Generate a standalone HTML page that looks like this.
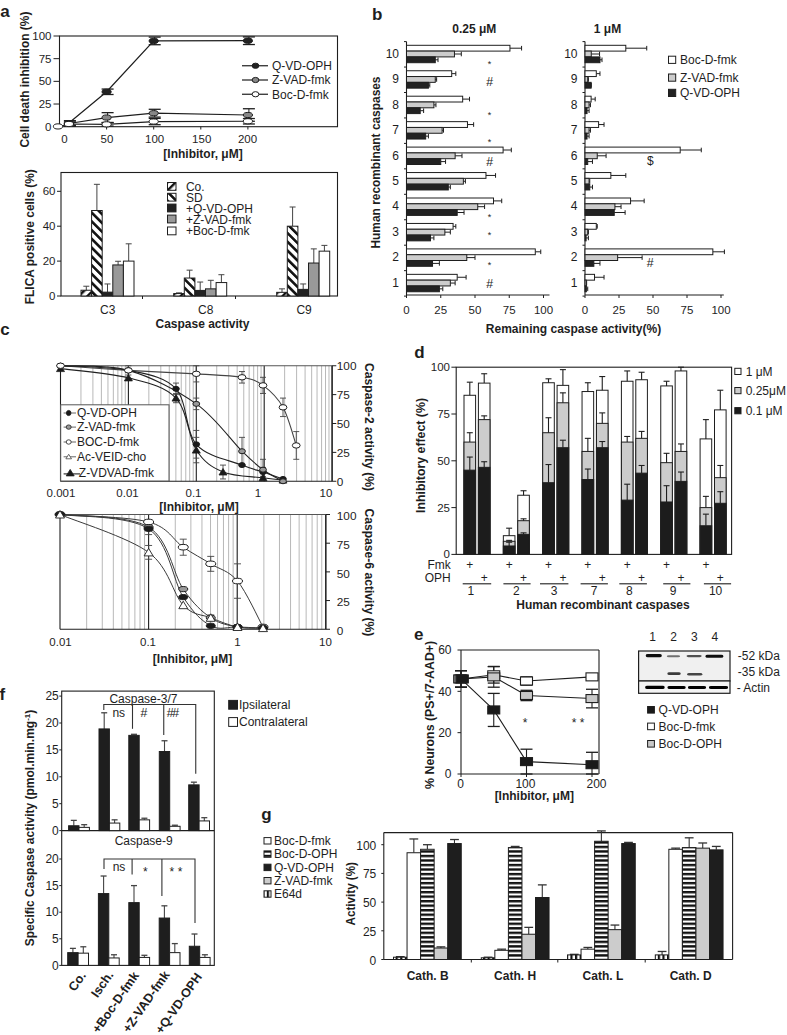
<!DOCTYPE html>
<html><head><meta charset="utf-8"><style>
html,body{margin:0;padding:0;background:#fff;}
svg{display:block;font-family:"Liberation Sans",sans-serif;}
</style></head><body>
<svg width="787" height="1035" viewBox="0 0 787 1035">
<rect width="787" height="1035" fill="#fff"/>
<defs>
<pattern id="hf" patternUnits="userSpaceOnUse" width="6" height="6" patternTransform="rotate(45)"><rect width="6" height="6" fill="#fff"/><rect width="2.4" height="6" fill="#111"/></pattern>
<pattern id="hb" patternUnits="userSpaceOnUse" width="6.2" height="6.2" patternTransform="rotate(-45)"><rect width="6.2" height="6.2" fill="#fff"/><rect width="2.6" height="6.2" fill="#111"/></pattern>
<pattern id="hs" patternUnits="userSpaceOnUse" width="4.5" height="4.52" y="0.5"><rect width="4.5" height="4.52" fill="#fff"/><rect width="4.5" height="2.4" fill="#111"/></pattern>
<pattern id="vs" patternUnits="userSpaceOnUse" width="4.6" height="4" x="0"><rect width="4.6" height="4" fill="#fff"/><rect width="2.2" height="4" fill="#111"/></pattern>
</defs>
<text x="0.3" y="16.6" font-size="17" font-weight="bold" fill="#1e1e1e">a</text>
<text transform="translate(25.00,79.60) rotate(-90)" x="0" y="4.26" font-size="12" text-anchor="middle" font-weight="bold" fill="#1e1e1e" textLength="136" lengthAdjust="spacingAndGlyphs">Cell death inhibition (%)</text>
<rect x="59.50" y="36.00" width="278.00" height="90.70" fill="none" stroke="#1e1e1e" stroke-width="1.1" />
<line x1="53.50" y1="126.70" x2="59.50" y2="126.70" stroke="#1e1e1e" stroke-width="1" />
<text x="51.50" y="130.78" font-size="11.5" text-anchor="end" fill="#1e1e1e" >0</text>
<line x1="53.50" y1="104.03" x2="59.50" y2="104.03" stroke="#1e1e1e" stroke-width="1" />
<text x="51.50" y="108.11" font-size="11.5" text-anchor="end" fill="#1e1e1e" >25</text>
<line x1="53.50" y1="81.35" x2="59.50" y2="81.35" stroke="#1e1e1e" stroke-width="1" />
<text x="51.50" y="85.43" font-size="11.5" text-anchor="end" fill="#1e1e1e" >50</text>
<line x1="53.50" y1="58.67" x2="59.50" y2="58.67" stroke="#1e1e1e" stroke-width="1" />
<text x="51.50" y="62.76" font-size="11.5" text-anchor="end" fill="#1e1e1e" >75</text>
<line x1="53.50" y1="36.00" x2="59.50" y2="36.00" stroke="#1e1e1e" stroke-width="1" />
<text x="51.50" y="40.08" font-size="11.5" text-anchor="end" fill="#1e1e1e" >100</text>
<text x="64.50" y="143.08" font-size="11.5" text-anchor="middle" fill="#1e1e1e" >0</text>
<line x1="106.60" y1="126.70" x2="106.60" y2="129.50" stroke="#1e1e1e" stroke-width="1" />
<text x="107.00" y="143.08" font-size="11.5" text-anchor="middle" fill="#1e1e1e" >50</text>
<line x1="153.70" y1="126.70" x2="153.70" y2="129.50" stroke="#1e1e1e" stroke-width="1" />
<text x="154.60" y="143.08" font-size="11.5" text-anchor="middle" fill="#1e1e1e" >100</text>
<line x1="200.80" y1="126.70" x2="200.80" y2="129.50" stroke="#1e1e1e" stroke-width="1" />
<text x="201.70" y="143.08" font-size="11.5" text-anchor="middle" fill="#1e1e1e" >150</text>
<line x1="247.90" y1="126.70" x2="247.90" y2="129.50" stroke="#1e1e1e" stroke-width="1" />
<text x="247.50" y="143.08" font-size="11.5" text-anchor="middle" fill="#1e1e1e" >200</text>
<text x="203.00" y="158.46" font-size="12" text-anchor="middle" font-weight="bold" fill="#1e1e1e" >[Inhibitor, μM]</text>
<polyline points="59.50,126.43 68.92,123.98 106.60,124.34 153.70,121.53 247.90,121.26" fill="none" stroke="#1e1e1e" stroke-width="1.2"/>
<polyline points="68.92,123.53 106.60,117.54 153.70,113.19 247.90,115.00" fill="none" stroke="#1e1e1e" stroke-width="1.2"/>
<polyline points="68.92,123.07 106.60,91.78 153.70,40.90 247.90,40.72" fill="none" stroke="#1e1e1e" stroke-width="1.2"/>
<line x1="69.92" y1="125.79" x2="69.92" y2="122.17" stroke="#1e1e1e" stroke-width="1" />
<line x1="63.92" y1="122.17" x2="75.92" y2="122.17" stroke="#1e1e1e" stroke-width="1.3" />
<line x1="63.92" y1="125.79" x2="75.92" y2="125.79" stroke="#1e1e1e" stroke-width="1.3" />
<line x1="107.60" y1="126.07" x2="107.60" y2="122.62" stroke="#1e1e1e" stroke-width="1" />
<line x1="101.60" y1="122.62" x2="113.60" y2="122.62" stroke="#1e1e1e" stroke-width="1.3" />
<line x1="101.60" y1="126.07" x2="113.60" y2="126.07" stroke="#1e1e1e" stroke-width="1.3" />
<line x1="154.70" y1="124.70" x2="154.70" y2="118.36" stroke="#1e1e1e" stroke-width="1" />
<line x1="148.70" y1="118.36" x2="160.70" y2="118.36" stroke="#1e1e1e" stroke-width="1.3" />
<line x1="148.70" y1="124.70" x2="160.70" y2="124.70" stroke="#1e1e1e" stroke-width="1.3" />
<line x1="248.90" y1="123.98" x2="248.90" y2="118.54" stroke="#1e1e1e" stroke-width="1" />
<line x1="242.90" y1="118.54" x2="254.90" y2="118.54" stroke="#1e1e1e" stroke-width="1.3" />
<line x1="242.90" y1="123.98" x2="254.90" y2="123.98" stroke="#1e1e1e" stroke-width="1.3" />
<line x1="69.92" y1="126.25" x2="69.92" y2="120.80" stroke="#1e1e1e" stroke-width="1" />
<line x1="63.92" y1="120.80" x2="75.92" y2="120.80" stroke="#1e1e1e" stroke-width="1.3" />
<line x1="63.92" y1="126.25" x2="75.92" y2="126.25" stroke="#1e1e1e" stroke-width="1.3" />
<line x1="107.60" y1="122.44" x2="107.60" y2="112.64" stroke="#1e1e1e" stroke-width="1" />
<line x1="101.60" y1="112.64" x2="113.60" y2="112.64" stroke="#1e1e1e" stroke-width="1.3" />
<line x1="101.60" y1="122.44" x2="113.60" y2="122.44" stroke="#1e1e1e" stroke-width="1.3" />
<line x1="154.70" y1="117.09" x2="154.70" y2="109.29" stroke="#1e1e1e" stroke-width="1" />
<line x1="148.70" y1="109.29" x2="160.70" y2="109.29" stroke="#1e1e1e" stroke-width="1.3" />
<line x1="148.70" y1="117.09" x2="160.70" y2="117.09" stroke="#1e1e1e" stroke-width="1.3" />
<line x1="248.90" y1="121.26" x2="248.90" y2="108.74" stroke="#1e1e1e" stroke-width="1" />
<line x1="242.90" y1="108.74" x2="254.90" y2="108.74" stroke="#1e1e1e" stroke-width="1.3" />
<line x1="242.90" y1="121.26" x2="254.90" y2="121.26" stroke="#1e1e1e" stroke-width="1.3" />
<line x1="69.92" y1="125.34" x2="69.92" y2="120.80" stroke="#1e1e1e" stroke-width="1" />
<line x1="63.92" y1="120.80" x2="75.92" y2="120.80" stroke="#1e1e1e" stroke-width="1.3" />
<line x1="63.92" y1="125.34" x2="75.92" y2="125.34" stroke="#1e1e1e" stroke-width="1.3" />
<line x1="107.60" y1="94.50" x2="107.60" y2="89.06" stroke="#1e1e1e" stroke-width="1" />
<line x1="101.60" y1="89.06" x2="113.60" y2="89.06" stroke="#1e1e1e" stroke-width="1.3" />
<line x1="101.60" y1="94.50" x2="113.60" y2="94.50" stroke="#1e1e1e" stroke-width="1.3" />
<line x1="154.70" y1="44.71" x2="154.70" y2="37.09" stroke="#1e1e1e" stroke-width="1" />
<line x1="148.70" y1="37.09" x2="160.70" y2="37.09" stroke="#1e1e1e" stroke-width="1.3" />
<line x1="148.70" y1="44.71" x2="160.70" y2="44.71" stroke="#1e1e1e" stroke-width="1.3" />
<line x1="248.90" y1="44.53" x2="248.90" y2="36.91" stroke="#1e1e1e" stroke-width="1" />
<line x1="242.90" y1="36.91" x2="254.90" y2="36.91" stroke="#1e1e1e" stroke-width="1.3" />
<line x1="242.90" y1="44.53" x2="254.90" y2="44.53" stroke="#1e1e1e" stroke-width="1.3" />
<ellipse cx="68.92" cy="123.07" rx="4.6" ry="2.6" fill="#222" stroke="#1e1e1e" stroke-width="1"/>
<ellipse cx="106.60" cy="91.78" rx="4.6" ry="2.6" fill="#222" stroke="#1e1e1e" stroke-width="1"/>
<ellipse cx="153.70" cy="40.90" rx="4.6" ry="2.6" fill="#222" stroke="#1e1e1e" stroke-width="1"/>
<ellipse cx="247.90" cy="40.72" rx="4.6" ry="2.6" fill="#222" stroke="#1e1e1e" stroke-width="1"/>
<ellipse cx="68.92" cy="123.53" rx="4.6" ry="2.6" fill="#888" stroke="#1e1e1e" stroke-width="1"/>
<ellipse cx="106.60" cy="117.54" rx="4.6" ry="2.6" fill="#888" stroke="#1e1e1e" stroke-width="1"/>
<ellipse cx="153.70" cy="113.19" rx="4.6" ry="2.6" fill="#888" stroke="#1e1e1e" stroke-width="1"/>
<ellipse cx="247.90" cy="115.00" rx="4.6" ry="2.6" fill="#888" stroke="#1e1e1e" stroke-width="1"/>
<ellipse cx="58.00" cy="126.43" rx="4.6" ry="2.6" fill="#fff" stroke="#1e1e1e" stroke-width="1"/>
<ellipse cx="68.92" cy="123.98" rx="4.6" ry="2.6" fill="#fff" stroke="#1e1e1e" stroke-width="1"/>
<ellipse cx="106.60" cy="124.34" rx="4.6" ry="2.6" fill="#fff" stroke="#1e1e1e" stroke-width="1"/>
<ellipse cx="153.70" cy="121.53" rx="4.6" ry="2.6" fill="#fff" stroke="#1e1e1e" stroke-width="1"/>
<ellipse cx="247.90" cy="121.26" rx="4.6" ry="2.6" fill="#fff" stroke="#1e1e1e" stroke-width="1"/>
<line x1="242.00" y1="65.75" x2="268.00" y2="65.75" stroke="#1e1e1e" stroke-width="1.2" />
<ellipse cx="255.50" cy="65.75" rx="3.4" ry="2.6" fill="#222" stroke="#1e1e1e" stroke-width="1"/>
<text x="272.00" y="70.01" font-size="12" text-anchor="start" fill="#1e1e1e" >Q-VD-OPH</text>
<line x1="242.00" y1="80.00" x2="268.00" y2="80.00" stroke="#1e1e1e" stroke-width="1.2" />
<ellipse cx="255.50" cy="80.00" rx="3.4" ry="2.6" fill="#888" stroke="#1e1e1e" stroke-width="1"/>
<text x="272.00" y="84.26" font-size="12" text-anchor="start" fill="#1e1e1e" >Z-VAD-fmk</text>
<line x1="242.00" y1="94.25" x2="268.00" y2="94.25" stroke="#1e1e1e" stroke-width="1.2" />
<ellipse cx="255.50" cy="94.25" rx="3.4" ry="2.6" fill="#fff" stroke="#1e1e1e" stroke-width="1"/>
<text x="272.00" y="98.51" font-size="12" text-anchor="start" fill="#1e1e1e" >Boc-D-fmk</text>
<rect x="61.00" y="172.50" width="276.50" height="123.50" fill="none" stroke="#1e1e1e" stroke-width="1.1" />
<line x1="57.00" y1="296.00" x2="61.00" y2="296.00" stroke="#1e1e1e" stroke-width="1" />
<text x="55.50" y="300.08" font-size="11.5" text-anchor="end" fill="#1e1e1e" >0</text>
<line x1="57.00" y1="261.10" x2="61.00" y2="261.10" stroke="#1e1e1e" stroke-width="1" />
<text x="55.50" y="265.18" font-size="11.5" text-anchor="end" fill="#1e1e1e" >20</text>
<line x1="57.00" y1="226.20" x2="61.00" y2="226.20" stroke="#1e1e1e" stroke-width="1" />
<text x="55.50" y="230.28" font-size="11.5" text-anchor="end" fill="#1e1e1e" >40</text>
<line x1="57.00" y1="191.30" x2="61.00" y2="191.30" stroke="#1e1e1e" stroke-width="1" />
<text x="55.50" y="195.38" font-size="11.5" text-anchor="end" fill="#1e1e1e" >60</text>
<line x1="142.50" y1="296.00" x2="142.50" y2="299.00" stroke="#1e1e1e" stroke-width="1" />
<line x1="235.50" y1="296.00" x2="235.50" y2="299.00" stroke="#1e1e1e" stroke-width="1" />
<text transform="translate(30.00,236.75) rotate(-90)" x="0" y="4.26" font-size="12" text-anchor="middle" font-weight="bold" fill="#1e1e1e" textLength="135" lengthAdjust="spacingAndGlyphs">FLICA positive cells (%)</text>
<text x="107.75" y="313.76" font-size="12" text-anchor="middle" fill="#1e1e1e" >C3</text>
<text x="205.70" y="314.26" font-size="12" text-anchor="middle" fill="#1e1e1e" >C8</text>
<text x="304.10" y="314.26" font-size="12" text-anchor="middle" fill="#1e1e1e" >C9</text>
<text x="202.50" y="328.06" font-size="12" text-anchor="middle" font-weight="bold" fill="#1e1e1e" >Caspase activity</text>
<line x1="86.30" y1="290.24" x2="86.30" y2="286.23" stroke="#444" stroke-width="1" />
<line x1="83.30" y1="286.23" x2="89.30" y2="286.23" stroke="#444" stroke-width="1" />
<line x1="96.90" y1="210.50" x2="96.90" y2="184.32" stroke="#444" stroke-width="1" />
<line x1="93.90" y1="184.32" x2="99.90" y2="184.32" stroke="#444" stroke-width="1" />
<line x1="107.50" y1="292.16" x2="107.50" y2="283.96" stroke="#444" stroke-width="1" />
<line x1="104.50" y1="283.96" x2="110.50" y2="283.96" stroke="#444" stroke-width="1" />
<line x1="118.10" y1="264.94" x2="118.10" y2="261.27" stroke="#444" stroke-width="1" />
<line x1="115.10" y1="261.27" x2="121.10" y2="261.27" stroke="#444" stroke-width="1" />
<line x1="128.70" y1="261.10" x2="128.70" y2="243.82" stroke="#444" stroke-width="1" />
<line x1="125.70" y1="243.82" x2="131.70" y2="243.82" stroke="#444" stroke-width="1" />
<rect x="81.00" y="290.24" width="10.60" height="5.76" fill="url(#hf)" stroke="#1e1e1e" stroke-width="1" />
<rect x="91.60" y="210.50" width="10.60" height="85.50" fill="url(#hb)" stroke="#1e1e1e" stroke-width="1" />
<rect x="102.20" y="292.16" width="10.60" height="3.84" fill="#222" stroke="#1e1e1e" stroke-width="1" />
<rect x="112.80" y="264.94" width="10.60" height="31.06" fill="#999" stroke="#1e1e1e" stroke-width="1" />
<rect x="123.40" y="261.10" width="10.60" height="34.90" fill="#fff" stroke="#1e1e1e" stroke-width="1" />
<line x1="179.00" y1="293.56" x2="179.00" y2="292.86" stroke="#444" stroke-width="1" />
<line x1="176.00" y1="292.86" x2="182.00" y2="292.86" stroke="#444" stroke-width="1" />
<line x1="189.60" y1="278.03" x2="189.60" y2="270.17" stroke="#444" stroke-width="1" />
<line x1="186.60" y1="270.17" x2="192.60" y2="270.17" stroke="#444" stroke-width="1" />
<line x1="200.20" y1="290.42" x2="200.20" y2="282.04" stroke="#444" stroke-width="1" />
<line x1="197.20" y1="282.04" x2="203.20" y2="282.04" stroke="#444" stroke-width="1" />
<line x1="210.80" y1="288.85" x2="210.80" y2="280.30" stroke="#444" stroke-width="1" />
<line x1="207.80" y1="280.30" x2="213.80" y2="280.30" stroke="#444" stroke-width="1" />
<line x1="221.40" y1="282.56" x2="221.40" y2="274.71" stroke="#444" stroke-width="1" />
<line x1="218.40" y1="274.71" x2="224.40" y2="274.71" stroke="#444" stroke-width="1" />
<rect x="173.70" y="293.56" width="10.60" height="2.44" fill="url(#hf)" stroke="#1e1e1e" stroke-width="1" />
<rect x="184.30" y="278.03" width="10.60" height="17.97" fill="url(#hb)" stroke="#1e1e1e" stroke-width="1" />
<rect x="194.90" y="290.42" width="10.60" height="5.58" fill="#222" stroke="#1e1e1e" stroke-width="1" />
<rect x="205.50" y="288.85" width="10.60" height="7.15" fill="#999" stroke="#1e1e1e" stroke-width="1" />
<rect x="216.10" y="282.56" width="10.60" height="13.44" fill="#fff" stroke="#1e1e1e" stroke-width="1" />
<line x1="282.00" y1="292.34" x2="282.00" y2="288.85" stroke="#444" stroke-width="1" />
<line x1="279.00" y1="288.85" x2="285.00" y2="288.85" stroke="#444" stroke-width="1" />
<line x1="292.60" y1="226.20" x2="292.60" y2="207.00" stroke="#444" stroke-width="1" />
<line x1="289.60" y1="207.00" x2="295.60" y2="207.00" stroke="#444" stroke-width="1" />
<line x1="303.20" y1="289.37" x2="303.20" y2="283.96" stroke="#444" stroke-width="1" />
<line x1="300.20" y1="283.96" x2="306.20" y2="283.96" stroke="#444" stroke-width="1" />
<line x1="313.80" y1="263.02" x2="313.80" y2="248.88" stroke="#444" stroke-width="1" />
<line x1="310.80" y1="248.88" x2="316.80" y2="248.88" stroke="#444" stroke-width="1" />
<line x1="324.40" y1="251.15" x2="324.40" y2="245.39" stroke="#444" stroke-width="1" />
<line x1="321.40" y1="245.39" x2="327.40" y2="245.39" stroke="#444" stroke-width="1" />
<rect x="276.70" y="292.34" width="10.60" height="3.66" fill="url(#hf)" stroke="#1e1e1e" stroke-width="1" />
<rect x="287.30" y="226.20" width="10.60" height="69.80" fill="url(#hb)" stroke="#1e1e1e" stroke-width="1" />
<rect x="297.90" y="289.37" width="10.60" height="6.63" fill="#222" stroke="#1e1e1e" stroke-width="1" />
<rect x="308.50" y="263.02" width="10.60" height="32.98" fill="#999" stroke="#1e1e1e" stroke-width="1" />
<rect x="319.10" y="251.15" width="10.60" height="44.85" fill="#fff" stroke="#1e1e1e" stroke-width="1" />
<rect x="167.50" y="182.50" width="8.50" height="7.80" fill="url(#hf)" stroke="#1e1e1e" stroke-width="1" />
<text x="185.90" y="190.96" font-size="12" text-anchor="start" fill="#1e1e1e" >Co.</text>
<rect x="167.50" y="193.30" width="8.50" height="7.80" fill="url(#hb)" stroke="#1e1e1e" stroke-width="1" />
<text x="185.90" y="201.76" font-size="12" text-anchor="start" fill="#1e1e1e" >SD</text>
<rect x="167.50" y="204.10" width="8.50" height="7.80" fill="#222" stroke="#1e1e1e" stroke-width="1" />
<text x="185.90" y="212.56" font-size="12" text-anchor="start" fill="#1e1e1e" >+Q-VD-OPH</text>
<rect x="167.50" y="215.10" width="8.50" height="7.80" fill="#999" stroke="#1e1e1e" stroke-width="1" />
<text x="185.90" y="223.56" font-size="12" text-anchor="start" fill="#1e1e1e" >+Z-VAD-fmk</text>
<rect x="167.50" y="227.00" width="8.50" height="7.80" fill="#fff" stroke="#1e1e1e" stroke-width="1" />
<text x="185.90" y="235.46" font-size="12" text-anchor="start" fill="#1e1e1e" >+Boc-D-fmk</text>
<text x="372" y="19.8" font-size="17" font-weight="bold" fill="#1e1e1e">b</text>
<text x="474.25" y="33.26" font-size="12" text-anchor="middle" font-weight="bold" fill="#1e1e1e" >0.25 μM</text>
<text x="607.50" y="33.26" font-size="12" text-anchor="middle" font-weight="bold" fill="#1e1e1e" >1 μM</text>
<text transform="translate(375.70,162.50) rotate(-90)" x="0" y="4.26" font-size="12" text-anchor="middle" font-weight="bold" fill="#1e1e1e" textLength="172" lengthAdjust="spacingAndGlyphs">Human recombinant caspases</text>
<text x="573.50" y="333.06" font-size="12" text-anchor="middle" font-weight="bold" fill="#1e1e1e" >Remaining caspase activity(%)</text>
<line x1="406.50" y1="41.60" x2="406.50" y2="295.00" stroke="#1e1e1e" stroke-width="1.1" />
<line x1="406.50" y1="295.00" x2="549.50" y2="295.00" stroke="#1e1e1e" stroke-width="1.1" />
<line x1="404.00" y1="41.60" x2="406.50" y2="41.60" stroke="#1e1e1e" stroke-width="1" />
<line x1="404.00" y1="67.05" x2="406.50" y2="67.05" stroke="#1e1e1e" stroke-width="1" />
<line x1="404.00" y1="92.50" x2="406.50" y2="92.50" stroke="#1e1e1e" stroke-width="1" />
<line x1="404.00" y1="117.95" x2="406.50" y2="117.95" stroke="#1e1e1e" stroke-width="1" />
<line x1="404.00" y1="143.40" x2="406.50" y2="143.40" stroke="#1e1e1e" stroke-width="1" />
<line x1="404.00" y1="168.85" x2="406.50" y2="168.85" stroke="#1e1e1e" stroke-width="1" />
<line x1="404.00" y1="194.30" x2="406.50" y2="194.30" stroke="#1e1e1e" stroke-width="1" />
<line x1="404.00" y1="219.75" x2="406.50" y2="219.75" stroke="#1e1e1e" stroke-width="1" />
<line x1="404.00" y1="245.20" x2="406.50" y2="245.20" stroke="#1e1e1e" stroke-width="1" />
<line x1="404.00" y1="270.65" x2="406.50" y2="270.65" stroke="#1e1e1e" stroke-width="1" />
<line x1="404.00" y1="296.10" x2="406.50" y2="296.10" stroke="#1e1e1e" stroke-width="1" />
<line x1="406.50" y1="295.00" x2="406.50" y2="298.00" stroke="#1e1e1e" stroke-width="1" />
<text x="406.50" y="314.08" font-size="11.5" text-anchor="middle" fill="#1e1e1e" >0</text>
<line x1="440.75" y1="295.00" x2="440.75" y2="298.00" stroke="#1e1e1e" stroke-width="1" />
<text x="440.75" y="314.08" font-size="11.5" text-anchor="middle" fill="#1e1e1e" >25</text>
<line x1="475.00" y1="295.00" x2="475.00" y2="298.00" stroke="#1e1e1e" stroke-width="1" />
<text x="475.00" y="314.08" font-size="11.5" text-anchor="middle" fill="#1e1e1e" >50</text>
<line x1="509.25" y1="295.00" x2="509.25" y2="298.00" stroke="#1e1e1e" stroke-width="1" />
<text x="509.25" y="314.08" font-size="11.5" text-anchor="middle" fill="#1e1e1e" >75</text>
<line x1="543.50" y1="295.00" x2="543.50" y2="298.00" stroke="#1e1e1e" stroke-width="1" />
<text x="543.50" y="314.08" font-size="11.5" text-anchor="middle" fill="#1e1e1e" >100</text>
<text x="399.00" y="57.79" font-size="12" text-anchor="end" fill="#1e1e1e" >10</text>
<line x1="509.94" y1="48.20" x2="521.58" y2="48.20" stroke="#1e1e1e" stroke-width="1" />
<line x1="521.58" y1="45.90" x2="521.58" y2="50.50" stroke="#1e1e1e" stroke-width="1" />
<rect x="406.50" y="45.30" width="103.44" height="5.80" fill="#fff" stroke="#1e1e1e" stroke-width="1" />
<line x1="454.45" y1="54.00" x2="461.30" y2="54.00" stroke="#1e1e1e" stroke-width="1" />
<line x1="461.30" y1="51.70" x2="461.30" y2="56.30" stroke="#1e1e1e" stroke-width="1" />
<rect x="406.50" y="51.10" width="47.95" height="5.80" fill="#ccc" stroke="#1e1e1e" stroke-width="1" />
<line x1="435.27" y1="59.80" x2="438.01" y2="59.80" stroke="#1e1e1e" stroke-width="1" />
<line x1="438.01" y1="57.50" x2="438.01" y2="62.10" stroke="#1e1e1e" stroke-width="1" />
<rect x="406.50" y="56.90" width="28.77" height="5.80" fill="#222" stroke="#1e1e1e" stroke-width="1" />
<text x="399.00" y="83.23" font-size="12" text-anchor="end" fill="#1e1e1e" >9</text>
<line x1="451.71" y1="73.65" x2="455.82" y2="73.65" stroke="#1e1e1e" stroke-width="1" />
<line x1="455.82" y1="71.35" x2="455.82" y2="75.95" stroke="#1e1e1e" stroke-width="1" />
<rect x="406.50" y="70.75" width="45.21" height="5.80" fill="#fff" stroke="#1e1e1e" stroke-width="1" />
<line x1="435.27" y1="79.45" x2="436.64" y2="79.45" stroke="#1e1e1e" stroke-width="1" />
<line x1="436.64" y1="77.15" x2="436.64" y2="81.75" stroke="#1e1e1e" stroke-width="1" />
<rect x="406.50" y="76.55" width="28.77" height="5.80" fill="#ccc" stroke="#1e1e1e" stroke-width="1" />
<line x1="428.42" y1="85.25" x2="429.79" y2="85.25" stroke="#1e1e1e" stroke-width="1" />
<line x1="429.79" y1="82.95" x2="429.79" y2="87.55" stroke="#1e1e1e" stroke-width="1" />
<rect x="406.50" y="82.35" width="21.92" height="5.80" fill="#222" stroke="#1e1e1e" stroke-width="1" />
<text x="399.00" y="108.69" font-size="12" text-anchor="end" fill="#1e1e1e" >8</text>
<line x1="462.67" y1="99.10" x2="469.52" y2="99.10" stroke="#1e1e1e" stroke-width="1" />
<line x1="469.52" y1="96.80" x2="469.52" y2="101.40" stroke="#1e1e1e" stroke-width="1" />
<rect x="406.50" y="96.20" width="56.17" height="5.80" fill="#fff" stroke="#1e1e1e" stroke-width="1" />
<line x1="433.90" y1="104.90" x2="435.95" y2="104.90" stroke="#1e1e1e" stroke-width="1" />
<line x1="435.95" y1="102.60" x2="435.95" y2="107.20" stroke="#1e1e1e" stroke-width="1" />
<rect x="406.50" y="102.00" width="27.40" height="5.80" fill="#ccc" stroke="#1e1e1e" stroke-width="1" />
<line x1="420.20" y1="110.70" x2="423.62" y2="110.70" stroke="#1e1e1e" stroke-width="1" />
<line x1="423.62" y1="108.40" x2="423.62" y2="113.00" stroke="#1e1e1e" stroke-width="1" />
<rect x="406.50" y="107.80" width="13.70" height="5.80" fill="#222" stroke="#1e1e1e" stroke-width="1" />
<text x="399.00" y="134.13" font-size="12" text-anchor="end" fill="#1e1e1e" >7</text>
<line x1="467.47" y1="124.55" x2="473.63" y2="124.55" stroke="#1e1e1e" stroke-width="1" />
<line x1="473.63" y1="122.25" x2="473.63" y2="126.85" stroke="#1e1e1e" stroke-width="1" />
<rect x="406.50" y="121.65" width="60.97" height="5.80" fill="#fff" stroke="#1e1e1e" stroke-width="1" />
<line x1="442.12" y1="130.35" x2="443.49" y2="130.35" stroke="#1e1e1e" stroke-width="1" />
<line x1="443.49" y1="128.05" x2="443.49" y2="132.65" stroke="#1e1e1e" stroke-width="1" />
<rect x="406.50" y="127.45" width="35.62" height="5.80" fill="#ccc" stroke="#1e1e1e" stroke-width="1" />
<line x1="425.68" y1="136.15" x2="428.42" y2="136.15" stroke="#1e1e1e" stroke-width="1" />
<line x1="428.42" y1="133.85" x2="428.42" y2="138.45" stroke="#1e1e1e" stroke-width="1" />
<rect x="406.50" y="133.25" width="19.18" height="5.80" fill="#222" stroke="#1e1e1e" stroke-width="1" />
<text x="399.00" y="159.58" font-size="12" text-anchor="end" fill="#1e1e1e" >6</text>
<line x1="503.09" y1="150.00" x2="511.31" y2="150.00" stroke="#1e1e1e" stroke-width="1" />
<line x1="511.31" y1="147.70" x2="511.31" y2="152.30" stroke="#1e1e1e" stroke-width="1" />
<rect x="406.50" y="147.10" width="96.59" height="5.80" fill="#fff" stroke="#1e1e1e" stroke-width="1" />
<line x1="455.13" y1="155.80" x2="461.99" y2="155.80" stroke="#1e1e1e" stroke-width="1" />
<line x1="461.99" y1="153.50" x2="461.99" y2="158.10" stroke="#1e1e1e" stroke-width="1" />
<rect x="406.50" y="152.90" width="48.64" height="5.80" fill="#ccc" stroke="#1e1e1e" stroke-width="1" />
<line x1="440.75" y1="161.60" x2="445.55" y2="161.60" stroke="#1e1e1e" stroke-width="1" />
<line x1="445.55" y1="159.30" x2="445.55" y2="163.90" stroke="#1e1e1e" stroke-width="1" />
<rect x="406.50" y="158.70" width="34.25" height="5.80" fill="#222" stroke="#1e1e1e" stroke-width="1" />
<text x="399.00" y="185.03" font-size="12" text-anchor="end" fill="#1e1e1e" >5</text>
<line x1="485.96" y1="175.45" x2="495.55" y2="175.45" stroke="#1e1e1e" stroke-width="1" />
<line x1="495.55" y1="173.15" x2="495.55" y2="177.75" stroke="#1e1e1e" stroke-width="1" />
<rect x="406.50" y="172.55" width="79.46" height="5.80" fill="#fff" stroke="#1e1e1e" stroke-width="1" />
<line x1="463.36" y1="181.25" x2="465.41" y2="181.25" stroke="#1e1e1e" stroke-width="1" />
<line x1="465.41" y1="178.95" x2="465.41" y2="183.55" stroke="#1e1e1e" stroke-width="1" />
<rect x="406.50" y="178.35" width="56.86" height="5.80" fill="#ccc" stroke="#1e1e1e" stroke-width="1" />
<line x1="448.29" y1="187.05" x2="450.34" y2="187.05" stroke="#1e1e1e" stroke-width="1" />
<line x1="450.34" y1="184.75" x2="450.34" y2="189.35" stroke="#1e1e1e" stroke-width="1" />
<rect x="406.50" y="184.15" width="41.79" height="5.80" fill="#222" stroke="#1e1e1e" stroke-width="1" />
<text x="399.00" y="210.48" font-size="12" text-anchor="end" fill="#1e1e1e" >4</text>
<line x1="493.50" y1="200.90" x2="501.72" y2="200.90" stroke="#1e1e1e" stroke-width="1" />
<line x1="501.72" y1="198.60" x2="501.72" y2="203.20" stroke="#1e1e1e" stroke-width="1" />
<rect x="406.50" y="198.00" width="87.00" height="5.80" fill="#fff" stroke="#1e1e1e" stroke-width="1" />
<line x1="477.74" y1="206.70" x2="484.59" y2="206.70" stroke="#1e1e1e" stroke-width="1" />
<line x1="484.59" y1="204.40" x2="484.59" y2="209.00" stroke="#1e1e1e" stroke-width="1" />
<rect x="406.50" y="203.80" width="71.24" height="5.80" fill="#ccc" stroke="#1e1e1e" stroke-width="1" />
<line x1="457.19" y1="212.50" x2="464.04" y2="212.50" stroke="#1e1e1e" stroke-width="1" />
<line x1="464.04" y1="210.20" x2="464.04" y2="214.80" stroke="#1e1e1e" stroke-width="1" />
<rect x="406.50" y="209.60" width="50.69" height="5.80" fill="#222" stroke="#1e1e1e" stroke-width="1" />
<text x="399.00" y="235.93" font-size="12" text-anchor="end" fill="#1e1e1e" >3</text>
<line x1="453.08" y1="226.35" x2="455.82" y2="226.35" stroke="#1e1e1e" stroke-width="1" />
<line x1="455.82" y1="224.05" x2="455.82" y2="228.65" stroke="#1e1e1e" stroke-width="1" />
<rect x="406.50" y="223.45" width="46.58" height="5.80" fill="#fff" stroke="#1e1e1e" stroke-width="1" />
<line x1="444.86" y1="232.15" x2="450.34" y2="232.15" stroke="#1e1e1e" stroke-width="1" />
<line x1="450.34" y1="229.85" x2="450.34" y2="234.45" stroke="#1e1e1e" stroke-width="1" />
<rect x="406.50" y="229.25" width="38.36" height="5.80" fill="#ccc" stroke="#1e1e1e" stroke-width="1" />
<line x1="430.48" y1="237.95" x2="433.90" y2="237.95" stroke="#1e1e1e" stroke-width="1" />
<line x1="433.90" y1="235.65" x2="433.90" y2="240.25" stroke="#1e1e1e" stroke-width="1" />
<rect x="406.50" y="235.05" width="23.98" height="5.80" fill="#222" stroke="#1e1e1e" stroke-width="1" />
<text x="399.00" y="261.38" font-size="12" text-anchor="end" fill="#1e1e1e" >2</text>
<line x1="535.28" y1="251.80" x2="540.76" y2="251.80" stroke="#1e1e1e" stroke-width="1" />
<line x1="540.76" y1="249.50" x2="540.76" y2="254.10" stroke="#1e1e1e" stroke-width="1" />
<rect x="406.50" y="248.90" width="128.78" height="5.80" fill="#fff" stroke="#1e1e1e" stroke-width="1" />
<line x1="466.78" y1="257.60" x2="475.00" y2="257.60" stroke="#1e1e1e" stroke-width="1" />
<line x1="475.00" y1="255.30" x2="475.00" y2="259.90" stroke="#1e1e1e" stroke-width="1" />
<rect x="406.50" y="254.70" width="60.28" height="5.80" fill="#ccc" stroke="#1e1e1e" stroke-width="1" />
<line x1="432.53" y1="263.40" x2="439.38" y2="263.40" stroke="#1e1e1e" stroke-width="1" />
<line x1="439.38" y1="261.10" x2="439.38" y2="265.70" stroke="#1e1e1e" stroke-width="1" />
<rect x="406.50" y="260.50" width="26.03" height="5.80" fill="#222" stroke="#1e1e1e" stroke-width="1" />
<text x="399.00" y="286.83" font-size="12" text-anchor="end" fill="#1e1e1e" >1</text>
<line x1="457.19" y1="277.25" x2="466.10" y2="277.25" stroke="#1e1e1e" stroke-width="1" />
<line x1="466.10" y1="274.95" x2="466.10" y2="279.55" stroke="#1e1e1e" stroke-width="1" />
<rect x="406.50" y="274.35" width="50.69" height="5.80" fill="#fff" stroke="#1e1e1e" stroke-width="1" />
<line x1="450.34" y1="283.05" x2="455.13" y2="283.05" stroke="#1e1e1e" stroke-width="1" />
<line x1="455.13" y1="280.75" x2="455.13" y2="285.35" stroke="#1e1e1e" stroke-width="1" />
<rect x="406.50" y="280.15" width="43.84" height="5.80" fill="#ccc" stroke="#1e1e1e" stroke-width="1" />
<line x1="439.38" y1="288.85" x2="442.81" y2="288.85" stroke="#1e1e1e" stroke-width="1" />
<line x1="442.81" y1="286.55" x2="442.81" y2="291.15" stroke="#1e1e1e" stroke-width="1" />
<rect x="406.50" y="285.95" width="32.88" height="5.80" fill="#222" stroke="#1e1e1e" stroke-width="1" />
<text x="489.5" y="66.5" font-size="9" text-anchor="middle" fill="#1e1e1e">*</text>
<text x="489.5" y="86.4" font-size="12.5" font-style="italic" text-anchor="middle" fill="#1e1e1e">#</text>
<text x="489.5" y="117.5" font-size="9" text-anchor="middle" fill="#1e1e1e">*</text>
<text x="489.5" y="145.0" font-size="9" text-anchor="middle" fill="#1e1e1e">*</text>
<text x="489.5" y="165.7" font-size="12.5" font-style="italic" text-anchor="middle" fill="#1e1e1e">#</text>
<text x="489.5" y="219.5" font-size="9" text-anchor="middle" fill="#1e1e1e">*</text>
<text x="489.5" y="238.3" font-size="9" text-anchor="middle" fill="#1e1e1e">*</text>
<text x="489.5" y="267.8" font-size="9" text-anchor="middle" fill="#1e1e1e">*</text>
<text x="489.5" y="288.2" font-size="12.5" font-style="italic" text-anchor="middle" fill="#1e1e1e">#</text>
<line x1="585.00" y1="41.60" x2="585.00" y2="295.00" stroke="#1e1e1e" stroke-width="1.1" />
<line x1="585.00" y1="295.00" x2="723.80" y2="295.00" stroke="#1e1e1e" stroke-width="1.1" />
<line x1="582.50" y1="41.60" x2="585.00" y2="41.60" stroke="#1e1e1e" stroke-width="1" />
<line x1="582.50" y1="67.05" x2="585.00" y2="67.05" stroke="#1e1e1e" stroke-width="1" />
<line x1="582.50" y1="92.50" x2="585.00" y2="92.50" stroke="#1e1e1e" stroke-width="1" />
<line x1="582.50" y1="117.95" x2="585.00" y2="117.95" stroke="#1e1e1e" stroke-width="1" />
<line x1="582.50" y1="143.40" x2="585.00" y2="143.40" stroke="#1e1e1e" stroke-width="1" />
<line x1="582.50" y1="168.85" x2="585.00" y2="168.85" stroke="#1e1e1e" stroke-width="1" />
<line x1="582.50" y1="194.30" x2="585.00" y2="194.30" stroke="#1e1e1e" stroke-width="1" />
<line x1="582.50" y1="219.75" x2="585.00" y2="219.75" stroke="#1e1e1e" stroke-width="1" />
<line x1="582.50" y1="245.20" x2="585.00" y2="245.20" stroke="#1e1e1e" stroke-width="1" />
<line x1="582.50" y1="270.65" x2="585.00" y2="270.65" stroke="#1e1e1e" stroke-width="1" />
<line x1="582.50" y1="296.10" x2="585.00" y2="296.10" stroke="#1e1e1e" stroke-width="1" />
<line x1="585.00" y1="295.00" x2="585.00" y2="298.00" stroke="#1e1e1e" stroke-width="1" />
<text x="585.00" y="314.08" font-size="11.5" text-anchor="middle" fill="#1e1e1e" >0</text>
<line x1="619.00" y1="295.00" x2="619.00" y2="298.00" stroke="#1e1e1e" stroke-width="1" />
<text x="619.00" y="314.08" font-size="11.5" text-anchor="middle" fill="#1e1e1e" >25</text>
<line x1="653.00" y1="295.00" x2="653.00" y2="298.00" stroke="#1e1e1e" stroke-width="1" />
<text x="653.00" y="314.08" font-size="11.5" text-anchor="middle" fill="#1e1e1e" >50</text>
<line x1="687.00" y1="295.00" x2="687.00" y2="298.00" stroke="#1e1e1e" stroke-width="1" />
<text x="687.00" y="314.08" font-size="11.5" text-anchor="middle" fill="#1e1e1e" >75</text>
<line x1="721.00" y1="295.00" x2="721.00" y2="298.00" stroke="#1e1e1e" stroke-width="1" />
<text x="721.00" y="314.08" font-size="11.5" text-anchor="middle" fill="#1e1e1e" >100</text>
<text x="577.50" y="57.79" font-size="12" text-anchor="end" fill="#1e1e1e" >10</text>
<line x1="625.80" y1="48.20" x2="646.74" y2="48.20" stroke="#1e1e1e" stroke-width="1" />
<line x1="646.74" y1="45.90" x2="646.74" y2="50.50" stroke="#1e1e1e" stroke-width="1" />
<rect x="585.00" y="45.30" width="40.80" height="5.80" fill="#fff" stroke="#1e1e1e" stroke-width="1" />
<line x1="591.26" y1="54.00" x2="599.55" y2="54.00" stroke="#1e1e1e" stroke-width="1" />
<line x1="599.55" y1="51.70" x2="599.55" y2="56.30" stroke="#1e1e1e" stroke-width="1" />
<rect x="585.00" y="51.10" width="6.26" height="5.80" fill="#ccc" stroke="#1e1e1e" stroke-width="1" />
<line x1="599.96" y1="59.80" x2="602.00" y2="59.80" stroke="#1e1e1e" stroke-width="1" />
<line x1="602.00" y1="57.50" x2="602.00" y2="62.10" stroke="#1e1e1e" stroke-width="1" />
<rect x="585.00" y="56.90" width="14.96" height="5.80" fill="#222" stroke="#1e1e1e" stroke-width="1" />
<text x="577.50" y="83.23" font-size="12" text-anchor="end" fill="#1e1e1e" >9</text>
<line x1="596.29" y1="73.65" x2="599.96" y2="73.65" stroke="#1e1e1e" stroke-width="1" />
<line x1="599.96" y1="71.35" x2="599.96" y2="75.95" stroke="#1e1e1e" stroke-width="1" />
<rect x="585.00" y="70.75" width="11.29" height="5.80" fill="#fff" stroke="#1e1e1e" stroke-width="1" />
<line x1="587.72" y1="79.45" x2="588.40" y2="79.45" stroke="#1e1e1e" stroke-width="1" />
<line x1="588.40" y1="77.15" x2="588.40" y2="81.75" stroke="#1e1e1e" stroke-width="1" />
<rect x="585.00" y="76.55" width="2.72" height="5.80" fill="#ccc" stroke="#1e1e1e" stroke-width="1" />
<line x1="591.12" y1="85.25" x2="591.26" y2="85.25" stroke="#1e1e1e" stroke-width="1" />
<line x1="591.26" y1="82.95" x2="591.26" y2="87.55" stroke="#1e1e1e" stroke-width="1" />
<rect x="585.00" y="82.35" width="6.12" height="5.80" fill="#222" stroke="#1e1e1e" stroke-width="1" />
<text x="577.50" y="108.69" font-size="12" text-anchor="end" fill="#1e1e1e" >8</text>
<line x1="591.12" y1="99.10" x2="595.20" y2="99.10" stroke="#1e1e1e" stroke-width="1" />
<line x1="595.20" y1="96.80" x2="595.20" y2="101.40" stroke="#1e1e1e" stroke-width="1" />
<rect x="585.00" y="96.20" width="6.12" height="5.80" fill="#fff" stroke="#1e1e1e" stroke-width="1" />
<line x1="589.08" y1="104.90" x2="590.44" y2="104.90" stroke="#1e1e1e" stroke-width="1" />
<line x1="590.44" y1="102.60" x2="590.44" y2="107.20" stroke="#1e1e1e" stroke-width="1" />
<rect x="585.00" y="102.00" width="4.08" height="5.80" fill="#ccc" stroke="#1e1e1e" stroke-width="1" />
<line x1="587.04" y1="110.70" x2="589.08" y2="110.70" stroke="#1e1e1e" stroke-width="1" />
<line x1="589.08" y1="108.40" x2="589.08" y2="113.00" stroke="#1e1e1e" stroke-width="1" />
<rect x="585.00" y="107.80" width="2.04" height="5.80" fill="#222" stroke="#1e1e1e" stroke-width="1" />
<text x="577.50" y="134.13" font-size="12" text-anchor="end" fill="#1e1e1e" >7</text>
<line x1="598.60" y1="124.55" x2="604.04" y2="124.55" stroke="#1e1e1e" stroke-width="1" />
<line x1="604.04" y1="122.25" x2="604.04" y2="126.85" stroke="#1e1e1e" stroke-width="1" />
<rect x="585.00" y="121.65" width="13.60" height="5.80" fill="#fff" stroke="#1e1e1e" stroke-width="1" />
<line x1="589.08" y1="130.35" x2="590.44" y2="130.35" stroke="#1e1e1e" stroke-width="1" />
<line x1="590.44" y1="128.05" x2="590.44" y2="132.65" stroke="#1e1e1e" stroke-width="1" />
<rect x="585.00" y="127.45" width="4.08" height="5.80" fill="#ccc" stroke="#1e1e1e" stroke-width="1" />
<line x1="587.04" y1="136.15" x2="589.08" y2="136.15" stroke="#1e1e1e" stroke-width="1" />
<line x1="589.08" y1="133.85" x2="589.08" y2="138.45" stroke="#1e1e1e" stroke-width="1" />
<rect x="585.00" y="133.25" width="2.04" height="5.80" fill="#222" stroke="#1e1e1e" stroke-width="1" />
<text x="577.50" y="159.58" font-size="12" text-anchor="end" fill="#1e1e1e" >6</text>
<line x1="680.20" y1="150.00" x2="701.28" y2="150.00" stroke="#1e1e1e" stroke-width="1" />
<line x1="701.28" y1="147.70" x2="701.28" y2="152.30" stroke="#1e1e1e" stroke-width="1" />
<rect x="585.00" y="147.10" width="95.20" height="5.80" fill="#fff" stroke="#1e1e1e" stroke-width="1" />
<line x1="597.24" y1="155.80" x2="606.08" y2="155.80" stroke="#1e1e1e" stroke-width="1" />
<line x1="606.08" y1="153.50" x2="606.08" y2="158.10" stroke="#1e1e1e" stroke-width="1" />
<rect x="585.00" y="152.90" width="12.24" height="5.80" fill="#ccc" stroke="#1e1e1e" stroke-width="1" />
<line x1="587.72" y1="161.60" x2="592.48" y2="161.60" stroke="#1e1e1e" stroke-width="1" />
<line x1="592.48" y1="159.30" x2="592.48" y2="163.90" stroke="#1e1e1e" stroke-width="1" />
<rect x="585.00" y="158.70" width="2.72" height="5.80" fill="#222" stroke="#1e1e1e" stroke-width="1" />
<text x="577.50" y="185.03" font-size="12" text-anchor="end" fill="#1e1e1e" >5</text>
<line x1="610.84" y1="175.45" x2="625.80" y2="175.45" stroke="#1e1e1e" stroke-width="1" />
<line x1="625.80" y1="173.15" x2="625.80" y2="177.75" stroke="#1e1e1e" stroke-width="1" />
<rect x="585.00" y="172.55" width="25.84" height="5.80" fill="#fff" stroke="#1e1e1e" stroke-width="1" />
<line x1="589.08" y1="181.25" x2="589.76" y2="181.25" stroke="#1e1e1e" stroke-width="1" />
<line x1="589.76" y1="178.95" x2="589.76" y2="183.55" stroke="#1e1e1e" stroke-width="1" />
<rect x="585.00" y="178.35" width="4.08" height="5.80" fill="#ccc" stroke="#1e1e1e" stroke-width="1" />
<line x1="589.76" y1="187.05" x2="592.48" y2="187.05" stroke="#1e1e1e" stroke-width="1" />
<line x1="592.48" y1="184.75" x2="592.48" y2="189.35" stroke="#1e1e1e" stroke-width="1" />
<rect x="585.00" y="184.15" width="4.76" height="5.80" fill="#222" stroke="#1e1e1e" stroke-width="1" />
<text x="577.50" y="210.48" font-size="12" text-anchor="end" fill="#1e1e1e" >4</text>
<line x1="630.56" y1="200.90" x2="644.16" y2="200.90" stroke="#1e1e1e" stroke-width="1" />
<line x1="644.16" y1="198.60" x2="644.16" y2="203.20" stroke="#1e1e1e" stroke-width="1" />
<rect x="585.00" y="198.00" width="45.56" height="5.80" fill="#fff" stroke="#1e1e1e" stroke-width="1" />
<line x1="614.92" y1="206.70" x2="621.04" y2="206.70" stroke="#1e1e1e" stroke-width="1" />
<line x1="621.04" y1="204.40" x2="621.04" y2="209.00" stroke="#1e1e1e" stroke-width="1" />
<rect x="585.00" y="203.80" width="29.92" height="5.80" fill="#ccc" stroke="#1e1e1e" stroke-width="1" />
<line x1="614.24" y1="212.50" x2="625.12" y2="212.50" stroke="#1e1e1e" stroke-width="1" />
<line x1="625.12" y1="210.20" x2="625.12" y2="214.80" stroke="#1e1e1e" stroke-width="1" />
<rect x="585.00" y="209.60" width="29.24" height="5.80" fill="#222" stroke="#1e1e1e" stroke-width="1" />
<text x="577.50" y="235.93" font-size="12" text-anchor="end" fill="#1e1e1e" >3</text>
<line x1="596.29" y1="226.35" x2="597.24" y2="226.35" stroke="#1e1e1e" stroke-width="1" />
<line x1="597.24" y1="224.05" x2="597.24" y2="228.65" stroke="#1e1e1e" stroke-width="1" />
<rect x="585.00" y="223.45" width="11.29" height="5.80" fill="#fff" stroke="#1e1e1e" stroke-width="1" />
<line x1="587.72" y1="232.15" x2="588.40" y2="232.15" stroke="#1e1e1e" stroke-width="1" />
<line x1="588.40" y1="229.85" x2="588.40" y2="234.45" stroke="#1e1e1e" stroke-width="1" />
<rect x="585.00" y="229.25" width="2.72" height="5.80" fill="#ccc" stroke="#1e1e1e" stroke-width="1" />
<line x1="586.09" y1="237.95" x2="588.40" y2="237.95" stroke="#1e1e1e" stroke-width="1" />
<line x1="588.40" y1="235.65" x2="588.40" y2="240.25" stroke="#1e1e1e" stroke-width="1" />
<rect x="585.00" y="235.05" width="1.09" height="5.80" fill="#222" stroke="#1e1e1e" stroke-width="1" />
<text x="577.50" y="261.38" font-size="12" text-anchor="end" fill="#1e1e1e" >2</text>
<line x1="712.84" y1="251.80" x2="724.40" y2="251.80" stroke="#1e1e1e" stroke-width="1" />
<line x1="724.40" y1="249.50" x2="724.40" y2="254.10" stroke="#1e1e1e" stroke-width="1" />
<rect x="585.00" y="248.90" width="127.84" height="5.80" fill="#fff" stroke="#1e1e1e" stroke-width="1" />
<line x1="617.64" y1="257.60" x2="642.12" y2="257.60" stroke="#1e1e1e" stroke-width="1" />
<line x1="642.12" y1="255.30" x2="642.12" y2="259.90" stroke="#1e1e1e" stroke-width="1" />
<rect x="585.00" y="254.70" width="32.64" height="5.80" fill="#ccc" stroke="#1e1e1e" stroke-width="1" />
<line x1="593.84" y1="263.40" x2="599.96" y2="263.40" stroke="#1e1e1e" stroke-width="1" />
<line x1="599.96" y1="261.10" x2="599.96" y2="265.70" stroke="#1e1e1e" stroke-width="1" />
<rect x="585.00" y="260.50" width="8.84" height="5.80" fill="#222" stroke="#1e1e1e" stroke-width="1" />
<text x="577.50" y="286.83" font-size="12" text-anchor="end" fill="#1e1e1e" >1</text>
<line x1="594.52" y1="277.25" x2="604.04" y2="277.25" stroke="#1e1e1e" stroke-width="1" />
<line x1="604.04" y1="274.95" x2="604.04" y2="279.55" stroke="#1e1e1e" stroke-width="1" />
<rect x="585.00" y="274.35" width="9.52" height="5.80" fill="#fff" stroke="#1e1e1e" stroke-width="1" />
<line x1="586.36" y1="283.05" x2="586.63" y2="283.05" stroke="#1e1e1e" stroke-width="1" />
<line x1="586.63" y1="280.75" x2="586.63" y2="285.35" stroke="#1e1e1e" stroke-width="1" />
<rect x="585.00" y="280.15" width="1.36" height="5.80" fill="#ccc" stroke="#1e1e1e" stroke-width="1" />
<line x1="586.36" y1="288.85" x2="587.72" y2="288.85" stroke="#1e1e1e" stroke-width="1" />
<line x1="587.72" y1="286.55" x2="587.72" y2="291.15" stroke="#1e1e1e" stroke-width="1" />
<rect x="585.00" y="285.95" width="1.36" height="5.80" fill="#222" stroke="#1e1e1e" stroke-width="1" />
<text x="650.3" y="164.8" font-size="12" text-anchor="middle" fill="#1e1e1e">$</text>
<text x="650.0" y="267.4" font-size="12.5" font-style="italic" text-anchor="middle" fill="#1e1e1e">#</text>
<rect x="668.50" y="56.20" width="7.20" height="7.20" fill="#fff" stroke="#1e1e1e" stroke-width="1" />
<text x="680.00" y="64.06" font-size="12" text-anchor="start" fill="#1e1e1e" >Boc-D-fmk</text>
<rect x="668.50" y="74.00" width="7.20" height="7.20" fill="#ccc" stroke="#1e1e1e" stroke-width="1" />
<text x="680.00" y="81.86" font-size="12" text-anchor="start" fill="#1e1e1e" >Z-VAD-fmk</text>
<rect x="668.50" y="89.30" width="7.20" height="7.20" fill="#222" stroke="#1e1e1e" stroke-width="1" />
<text x="680.00" y="97.16" font-size="12" text-anchor="start" fill="#1e1e1e" >Q-VD-OPH</text>
<text x="0.2" y="335" font-size="17" font-weight="bold" fill="#1e1e1e">c</text>
<line x1="80.94" y1="365.75" x2="80.94" y2="481.25" stroke="#b0b0b0" stroke-width="0.9" />
<line x1="92.90" y1="365.75" x2="92.90" y2="481.25" stroke="#b0b0b0" stroke-width="0.9" />
<line x1="101.38" y1="365.75" x2="101.38" y2="481.25" stroke="#b0b0b0" stroke-width="0.9" />
<line x1="107.96" y1="365.75" x2="107.96" y2="481.25" stroke="#b0b0b0" stroke-width="0.9" />
<line x1="113.34" y1="365.75" x2="113.34" y2="481.25" stroke="#b0b0b0" stroke-width="0.9" />
<line x1="117.88" y1="365.75" x2="117.88" y2="481.25" stroke="#b0b0b0" stroke-width="0.9" />
<line x1="121.82" y1="365.75" x2="121.82" y2="481.25" stroke="#b0b0b0" stroke-width="0.9" />
<line x1="125.29" y1="365.75" x2="125.29" y2="481.25" stroke="#b0b0b0" stroke-width="0.9" />
<line x1="148.84" y1="365.75" x2="148.84" y2="481.25" stroke="#b0b0b0" stroke-width="0.9" />
<line x1="160.80" y1="365.75" x2="160.80" y2="481.25" stroke="#b0b0b0" stroke-width="0.9" />
<line x1="169.28" y1="365.75" x2="169.28" y2="481.25" stroke="#b0b0b0" stroke-width="0.9" />
<line x1="175.86" y1="365.75" x2="175.86" y2="481.25" stroke="#b0b0b0" stroke-width="0.9" />
<line x1="181.24" y1="365.75" x2="181.24" y2="481.25" stroke="#b0b0b0" stroke-width="0.9" />
<line x1="185.78" y1="365.75" x2="185.78" y2="481.25" stroke="#b0b0b0" stroke-width="0.9" />
<line x1="189.72" y1="365.75" x2="189.72" y2="481.25" stroke="#b0b0b0" stroke-width="0.9" />
<line x1="193.19" y1="365.75" x2="193.19" y2="481.25" stroke="#b0b0b0" stroke-width="0.9" />
<line x1="216.74" y1="365.75" x2="216.74" y2="481.25" stroke="#b0b0b0" stroke-width="0.9" />
<line x1="228.70" y1="365.75" x2="228.70" y2="481.25" stroke="#b0b0b0" stroke-width="0.9" />
<line x1="237.18" y1="365.75" x2="237.18" y2="481.25" stroke="#b0b0b0" stroke-width="0.9" />
<line x1="243.76" y1="365.75" x2="243.76" y2="481.25" stroke="#b0b0b0" stroke-width="0.9" />
<line x1="249.14" y1="365.75" x2="249.14" y2="481.25" stroke="#b0b0b0" stroke-width="0.9" />
<line x1="253.68" y1="365.75" x2="253.68" y2="481.25" stroke="#b0b0b0" stroke-width="0.9" />
<line x1="257.62" y1="365.75" x2="257.62" y2="481.25" stroke="#b0b0b0" stroke-width="0.9" />
<line x1="261.09" y1="365.75" x2="261.09" y2="481.25" stroke="#b0b0b0" stroke-width="0.9" />
<line x1="284.64" y1="365.75" x2="284.64" y2="481.25" stroke="#b0b0b0" stroke-width="0.9" />
<line x1="296.60" y1="365.75" x2="296.60" y2="481.25" stroke="#b0b0b0" stroke-width="0.9" />
<line x1="305.08" y1="365.75" x2="305.08" y2="481.25" stroke="#b0b0b0" stroke-width="0.9" />
<line x1="311.66" y1="365.75" x2="311.66" y2="481.25" stroke="#b0b0b0" stroke-width="0.9" />
<line x1="317.04" y1="365.75" x2="317.04" y2="481.25" stroke="#b0b0b0" stroke-width="0.9" />
<line x1="321.58" y1="365.75" x2="321.58" y2="481.25" stroke="#b0b0b0" stroke-width="0.9" />
<line x1="325.52" y1="365.75" x2="325.52" y2="481.25" stroke="#b0b0b0" stroke-width="0.9" />
<line x1="328.99" y1="365.75" x2="328.99" y2="481.25" stroke="#b0b0b0" stroke-width="0.9" />
<line x1="60.50" y1="365.75" x2="60.50" y2="481.25" stroke="#1e1e1e" stroke-width="1.1" />
<line x1="128.40" y1="365.75" x2="128.40" y2="481.25" stroke="#1e1e1e" stroke-width="1.1" />
<line x1="196.30" y1="365.75" x2="196.30" y2="481.25" stroke="#1e1e1e" stroke-width="1.1" />
<line x1="264.20" y1="365.75" x2="264.20" y2="481.25" stroke="#1e1e1e" stroke-width="1.1" />
<line x1="332.10" y1="365.75" x2="332.10" y2="481.25" stroke="#1e1e1e" stroke-width="1.1" />
<line x1="60.50" y1="365.75" x2="332.10" y2="365.75" stroke="#555" stroke-width="1.1" />
<line x1="60.50" y1="481.25" x2="332.10" y2="481.25" stroke="#1e1e1e" stroke-width="1.1" />
<line x1="332.10" y1="365.75" x2="332.10" y2="481.25" stroke="#1e1e1e" stroke-width="1.1" />
<line x1="332.10" y1="481.25" x2="336.30" y2="481.25" stroke="#1e1e1e" stroke-width="1" />
<text x="336.80" y="485.94" font-size="11.8" text-anchor="start" fill="#1e1e1e" >0</text>
<line x1="332.10" y1="452.38" x2="336.30" y2="452.38" stroke="#1e1e1e" stroke-width="1" />
<text x="336.80" y="457.06" font-size="11.8" text-anchor="start" fill="#1e1e1e" >25</text>
<line x1="332.10" y1="423.50" x2="336.30" y2="423.50" stroke="#1e1e1e" stroke-width="1" />
<text x="336.80" y="428.19" font-size="11.8" text-anchor="start" fill="#1e1e1e" >50</text>
<line x1="332.10" y1="394.62" x2="336.30" y2="394.62" stroke="#1e1e1e" stroke-width="1" />
<text x="336.80" y="399.31" font-size="11.8" text-anchor="start" fill="#1e1e1e" >75</text>
<line x1="332.10" y1="365.75" x2="336.30" y2="365.75" stroke="#1e1e1e" stroke-width="1" />
<text x="336.80" y="370.44" font-size="11.8" text-anchor="start" fill="#1e1e1e" >100</text>
<text x="61.00" y="496.58" font-size="11.5" text-anchor="middle" fill="#1e1e1e" >0.001</text>
<text x="127.50" y="496.58" font-size="11.5" text-anchor="middle" fill="#1e1e1e" >0.01</text>
<text x="193.50" y="496.58" font-size="11.5" text-anchor="middle" fill="#1e1e1e" >0.1</text>
<text x="258.00" y="496.58" font-size="11.5" text-anchor="middle" fill="#1e1e1e" >1</text>
<text x="326.00" y="496.58" font-size="11.5" text-anchor="middle" fill="#1e1e1e" >10</text>
<text transform="translate(369.40,427.00) rotate(90)" x="0" y="4.26" font-size="12" text-anchor="middle" font-weight="bold" fill="#1e1e1e" textLength="128" lengthAdjust="spacingAndGlyphs">Caspase-2 activity (%)</text>
<text x="199.00" y="510.56" font-size="12" text-anchor="middle" font-weight="bold" fill="#1e1e1e" >[Inhibitor, μM]</text>
<line x1="86.67" y1="514.50" x2="86.67" y2="629.25" stroke="#b0b0b0" stroke-width="0.9" />
<line x1="102.27" y1="514.50" x2="102.27" y2="629.25" stroke="#b0b0b0" stroke-width="0.9" />
<line x1="113.34" y1="514.50" x2="113.34" y2="629.25" stroke="#b0b0b0" stroke-width="0.9" />
<line x1="121.93" y1="514.50" x2="121.93" y2="629.25" stroke="#b0b0b0" stroke-width="0.9" />
<line x1="128.94" y1="514.50" x2="128.94" y2="629.25" stroke="#b0b0b0" stroke-width="0.9" />
<line x1="134.88" y1="514.50" x2="134.88" y2="629.25" stroke="#b0b0b0" stroke-width="0.9" />
<line x1="140.01" y1="514.50" x2="140.01" y2="629.25" stroke="#b0b0b0" stroke-width="0.9" />
<line x1="144.55" y1="514.50" x2="144.55" y2="629.25" stroke="#b0b0b0" stroke-width="0.9" />
<line x1="175.27" y1="514.50" x2="175.27" y2="629.25" stroke="#b0b0b0" stroke-width="0.9" />
<line x1="190.87" y1="514.50" x2="190.87" y2="629.25" stroke="#b0b0b0" stroke-width="0.9" />
<line x1="201.94" y1="514.50" x2="201.94" y2="629.25" stroke="#b0b0b0" stroke-width="0.9" />
<line x1="210.53" y1="514.50" x2="210.53" y2="629.25" stroke="#b0b0b0" stroke-width="0.9" />
<line x1="217.54" y1="514.50" x2="217.54" y2="629.25" stroke="#b0b0b0" stroke-width="0.9" />
<line x1="223.48" y1="514.50" x2="223.48" y2="629.25" stroke="#b0b0b0" stroke-width="0.9" />
<line x1="228.61" y1="514.50" x2="228.61" y2="629.25" stroke="#b0b0b0" stroke-width="0.9" />
<line x1="233.15" y1="514.50" x2="233.15" y2="629.25" stroke="#b0b0b0" stroke-width="0.9" />
<line x1="263.87" y1="514.50" x2="263.87" y2="629.25" stroke="#b0b0b0" stroke-width="0.9" />
<line x1="279.47" y1="514.50" x2="279.47" y2="629.25" stroke="#b0b0b0" stroke-width="0.9" />
<line x1="290.54" y1="514.50" x2="290.54" y2="629.25" stroke="#b0b0b0" stroke-width="0.9" />
<line x1="299.13" y1="514.50" x2="299.13" y2="629.25" stroke="#b0b0b0" stroke-width="0.9" />
<line x1="306.14" y1="514.50" x2="306.14" y2="629.25" stroke="#b0b0b0" stroke-width="0.9" />
<line x1="312.08" y1="514.50" x2="312.08" y2="629.25" stroke="#b0b0b0" stroke-width="0.9" />
<line x1="317.21" y1="514.50" x2="317.21" y2="629.25" stroke="#b0b0b0" stroke-width="0.9" />
<line x1="321.75" y1="514.50" x2="321.75" y2="629.25" stroke="#b0b0b0" stroke-width="0.9" />
<line x1="60.00" y1="514.50" x2="60.00" y2="629.25" stroke="#1e1e1e" stroke-width="1.1" />
<line x1="148.60" y1="514.50" x2="148.60" y2="629.25" stroke="#1e1e1e" stroke-width="1.1" />
<line x1="237.20" y1="514.50" x2="237.20" y2="629.25" stroke="#1e1e1e" stroke-width="1.1" />
<line x1="325.80" y1="514.50" x2="325.80" y2="629.25" stroke="#1e1e1e" stroke-width="1.1" />
<line x1="60.00" y1="514.50" x2="325.80" y2="514.50" stroke="#555" stroke-width="1.1" />
<line x1="60.00" y1="629.25" x2="325.80" y2="629.25" stroke="#1e1e1e" stroke-width="1.1" />
<line x1="325.80" y1="514.50" x2="325.80" y2="629.25" stroke="#1e1e1e" stroke-width="1.1" />
<line x1="325.80" y1="629.25" x2="330.00" y2="629.25" stroke="#1e1e1e" stroke-width="1" />
<text x="336.80" y="634.94" font-size="11.8" text-anchor="start" fill="#1e1e1e" >0</text>
<line x1="325.80" y1="600.56" x2="330.00" y2="600.56" stroke="#1e1e1e" stroke-width="1" />
<text x="336.80" y="606.25" font-size="11.8" text-anchor="start" fill="#1e1e1e" >25</text>
<line x1="325.80" y1="571.88" x2="330.00" y2="571.88" stroke="#1e1e1e" stroke-width="1" />
<text x="336.80" y="577.56" font-size="11.8" text-anchor="start" fill="#1e1e1e" >50</text>
<line x1="325.80" y1="543.19" x2="330.00" y2="543.19" stroke="#1e1e1e" stroke-width="1" />
<text x="336.80" y="548.88" font-size="11.8" text-anchor="start" fill="#1e1e1e" >75</text>
<line x1="325.80" y1="514.50" x2="330.00" y2="514.50" stroke="#1e1e1e" stroke-width="1" />
<text x="336.80" y="520.19" font-size="11.8" text-anchor="start" fill="#1e1e1e" >100</text>
<text x="60.50" y="645.88" font-size="11.5" text-anchor="middle" fill="#1e1e1e" >0.01</text>
<text x="148.00" y="645.88" font-size="11.5" text-anchor="middle" fill="#1e1e1e" >0.1</text>
<text x="237.50" y="645.88" font-size="11.5" text-anchor="middle" fill="#1e1e1e" >1</text>
<text x="325.50" y="645.88" font-size="11.5" text-anchor="middle" fill="#1e1e1e" >10</text>
<text transform="translate(369.40,572.38) rotate(90)" x="0" y="4.26" font-size="12" text-anchor="middle" font-weight="bold" fill="#1e1e1e" textLength="128" lengthAdjust="spacingAndGlyphs">Caspase-6 activity (%)</text>
<text x="192.50" y="662.56" font-size="12" text-anchor="middle" font-weight="bold" fill="#1e1e1e" >[Inhibitor, μM]</text>
<path d="M60.50,365.75 C71.82,366.52 105.77,369.02 128.40,370.37 C151.03,371.72 177.37,372.68 196.30,373.83 C215.23,374.99 230.88,375.38 242.00,377.30 C253.12,379.23 256.17,380.38 263.00,385.38 C269.83,390.39 277.46,397.32 283.00,407.33 C288.54,417.34 294.04,439.09 296.25,445.44" fill="none" stroke="#444" stroke-width="1.1"/>
<path d="M60.50,365.75 C71.82,366.52 105.77,364.02 128.40,370.37 C151.03,376.72 177.37,390.39 196.30,403.87 C215.23,417.34 230.88,440.25 242.00,451.22 C253.12,462.19 256.17,464.69 263.00,469.70 C269.83,474.70 279.67,479.32 283.00,481.25" fill="none" stroke="#222" stroke-width="1.1"/>
<path d="M60.50,365.75 C71.82,366.52 109.15,366.52 128.40,370.37 C147.65,374.22 164.68,376.53 176.00,388.85 C187.32,401.17 185.30,431.59 196.30,444.29 C207.30,457.00 230.88,460.46 242.00,465.08 C253.12,469.70 256.17,469.70 263.00,472.01 C269.83,474.32 279.67,477.78 283.00,478.94" fill="none" stroke="#222" stroke-width="1.1"/>
<path d="M60.50,368.64 C71.82,370.18 109.15,372.97 128.40,377.88 C147.65,382.79 164.68,386.06 176.00,398.09 C187.32,410.12 188.47,437.75 196.30,450.06 C204.13,462.38 211.88,467.39 223.00,472.01 C234.12,476.63 253.00,476.44 263.00,477.79 C273.00,479.13 279.67,479.71 283.00,480.10" fill="none" stroke="#222" stroke-width="1.1"/>
<line x1="128.40" y1="365.75" x2="128.40" y2="374.99" stroke="#444" stroke-width="0.9" />
<line x1="125.40" y1="365.75" x2="131.40" y2="365.75" stroke="#444" stroke-width="0.9" />
<line x1="125.40" y1="374.99" x2="131.40" y2="374.99" stroke="#444" stroke-width="0.9" />
<line x1="196.30" y1="365.75" x2="196.30" y2="381.92" stroke="#444" stroke-width="0.9" />
<line x1="193.30" y1="365.75" x2="199.30" y2="365.75" stroke="#444" stroke-width="0.9" />
<line x1="193.30" y1="381.92" x2="199.30" y2="381.92" stroke="#444" stroke-width="0.9" />
<line x1="242.00" y1="371.52" x2="242.00" y2="383.07" stroke="#444" stroke-width="0.9" />
<line x1="239.00" y1="371.52" x2="245.00" y2="371.52" stroke="#444" stroke-width="0.9" />
<line x1="239.00" y1="383.07" x2="245.00" y2="383.07" stroke="#444" stroke-width="0.9" />
<line x1="263.00" y1="377.30" x2="263.00" y2="393.47" stroke="#444" stroke-width="0.9" />
<line x1="260.00" y1="377.30" x2="266.00" y2="377.30" stroke="#444" stroke-width="0.9" />
<line x1="260.00" y1="393.47" x2="266.00" y2="393.47" stroke="#444" stroke-width="0.9" />
<line x1="283.00" y1="398.09" x2="283.00" y2="416.57" stroke="#444" stroke-width="0.9" />
<line x1="280.00" y1="398.09" x2="286.00" y2="398.09" stroke="#444" stroke-width="0.9" />
<line x1="280.00" y1="416.57" x2="286.00" y2="416.57" stroke="#444" stroke-width="0.9" />
<line x1="296.25" y1="431.58" x2="296.25" y2="459.31" stroke="#444" stroke-width="0.9" />
<line x1="293.25" y1="431.58" x2="299.25" y2="431.58" stroke="#444" stroke-width="0.9" />
<line x1="293.25" y1="459.31" x2="299.25" y2="459.31" stroke="#444" stroke-width="0.9" />
<line x1="196.30" y1="398.09" x2="196.30" y2="409.64" stroke="#444" stroke-width="0.9" />
<line x1="193.30" y1="398.09" x2="199.30" y2="398.09" stroke="#444" stroke-width="0.9" />
<line x1="193.30" y1="409.64" x2="199.30" y2="409.64" stroke="#444" stroke-width="0.9" />
<line x1="242.00" y1="437.36" x2="242.00" y2="465.08" stroke="#444" stroke-width="0.9" />
<line x1="239.00" y1="437.36" x2="245.00" y2="437.36" stroke="#444" stroke-width="0.9" />
<line x1="239.00" y1="465.08" x2="245.00" y2="465.08" stroke="#444" stroke-width="0.9" />
<line x1="263.00" y1="459.31" x2="263.00" y2="480.10" stroke="#444" stroke-width="0.9" />
<line x1="260.00" y1="459.31" x2="266.00" y2="459.31" stroke="#444" stroke-width="0.9" />
<line x1="260.00" y1="480.10" x2="266.00" y2="480.10" stroke="#444" stroke-width="0.9" />
<line x1="176.00" y1="383.07" x2="176.00" y2="394.62" stroke="#444" stroke-width="0.9" />
<line x1="173.00" y1="383.07" x2="179.00" y2="383.07" stroke="#444" stroke-width="0.9" />
<line x1="173.00" y1="394.62" x2="179.00" y2="394.62" stroke="#444" stroke-width="0.9" />
<line x1="196.30" y1="430.43" x2="196.30" y2="458.15" stroke="#444" stroke-width="0.9" />
<line x1="193.30" y1="430.43" x2="199.30" y2="430.43" stroke="#444" stroke-width="0.9" />
<line x1="193.30" y1="458.15" x2="199.30" y2="458.15" stroke="#444" stroke-width="0.9" />
<line x1="263.00" y1="467.39" x2="263.00" y2="476.63" stroke="#444" stroke-width="0.9" />
<line x1="260.00" y1="467.39" x2="266.00" y2="467.39" stroke="#444" stroke-width="0.9" />
<line x1="260.00" y1="476.63" x2="266.00" y2="476.63" stroke="#444" stroke-width="0.9" />
<line x1="176.00" y1="393.47" x2="176.00" y2="402.71" stroke="#444" stroke-width="0.9" />
<line x1="173.00" y1="393.47" x2="179.00" y2="393.47" stroke="#444" stroke-width="0.9" />
<line x1="173.00" y1="402.71" x2="179.00" y2="402.71" stroke="#444" stroke-width="0.9" />
<line x1="196.30" y1="437.36" x2="196.30" y2="462.77" stroke="#444" stroke-width="0.9" />
<line x1="193.30" y1="437.36" x2="199.30" y2="437.36" stroke="#444" stroke-width="0.9" />
<line x1="193.30" y1="462.77" x2="199.30" y2="462.77" stroke="#444" stroke-width="0.9" />
<line x1="223.00" y1="465.08" x2="223.00" y2="478.94" stroke="#444" stroke-width="0.9" />
<line x1="220.00" y1="465.08" x2="226.00" y2="465.08" stroke="#444" stroke-width="0.9" />
<line x1="220.00" y1="478.94" x2="226.00" y2="478.94" stroke="#444" stroke-width="0.9" />
<polygon points="60.5,365.1 64.5,371.6 56.5,371.6" fill="#1a1a1a" stroke="#1e1e1e" stroke-width="0.8"/>
<polygon points="128.4,374.4 132.4,380.9 124.4,380.9" fill="#1a1a1a" stroke="#1e1e1e" stroke-width="0.8"/>
<polygon points="176.0,394.6 180.0,401.1 172.0,401.1" fill="#1a1a1a" stroke="#1e1e1e" stroke-width="0.8"/>
<polygon points="196.3,446.6 200.3,453.1 192.3,453.1" fill="#1a1a1a" stroke="#1e1e1e" stroke-width="0.8"/>
<polygon points="223.0,468.5 227.0,475.0 219.0,475.0" fill="#1a1a1a" stroke="#1e1e1e" stroke-width="0.8"/>
<polygon points="263.0,474.3 267.0,480.8 259.0,480.8" fill="#1a1a1a" stroke="#1e1e1e" stroke-width="0.8"/>
<polygon points="283.0,476.6 287.0,483.1 279.0,483.1" fill="#1a1a1a" stroke="#1e1e1e" stroke-width="0.8"/>
<ellipse cx="60.50" cy="365.75" rx="3.3" ry="2.5" fill="#1a1a1a" stroke="#1e1e1e" stroke-width="1"/>
<ellipse cx="128.40" cy="370.37" rx="3.3" ry="2.5" fill="#1a1a1a" stroke="#1e1e1e" stroke-width="1"/>
<ellipse cx="176.00" cy="388.85" rx="3.3" ry="2.5" fill="#1a1a1a" stroke="#1e1e1e" stroke-width="1"/>
<ellipse cx="196.30" cy="444.29" rx="3.3" ry="2.5" fill="#1a1a1a" stroke="#1e1e1e" stroke-width="1"/>
<ellipse cx="242.00" cy="465.08" rx="3.3" ry="2.5" fill="#1a1a1a" stroke="#1e1e1e" stroke-width="1"/>
<ellipse cx="263.00" cy="472.01" rx="3.3" ry="2.5" fill="#1a1a1a" stroke="#1e1e1e" stroke-width="1"/>
<ellipse cx="283.00" cy="478.94" rx="3.3" ry="2.5" fill="#1a1a1a" stroke="#1e1e1e" stroke-width="1"/>
<ellipse cx="60.50" cy="365.75" rx="3.4" ry="2.5" fill="#999" stroke="#1e1e1e" stroke-width="1"/>
<ellipse cx="128.40" cy="370.37" rx="3.4" ry="2.5" fill="#999" stroke="#1e1e1e" stroke-width="1"/>
<ellipse cx="196.30" cy="403.87" rx="3.4" ry="2.5" fill="#999" stroke="#1e1e1e" stroke-width="1"/>
<ellipse cx="242.00" cy="451.22" rx="3.4" ry="2.5" fill="#999" stroke="#1e1e1e" stroke-width="1"/>
<ellipse cx="263.00" cy="469.70" rx="3.4" ry="2.5" fill="#999" stroke="#1e1e1e" stroke-width="1"/>
<ellipse cx="283.00" cy="481.25" rx="3.4" ry="2.5" fill="#999" stroke="#1e1e1e" stroke-width="1"/>
<ellipse cx="60.50" cy="365.75" rx="3.9" ry="2.7" fill="#fff" stroke="#1e1e1e" stroke-width="1"/>
<ellipse cx="128.40" cy="370.37" rx="3.9" ry="2.7" fill="#fff" stroke="#1e1e1e" stroke-width="1"/>
<ellipse cx="196.30" cy="373.83" rx="3.9" ry="2.7" fill="#fff" stroke="#1e1e1e" stroke-width="1"/>
<ellipse cx="242.00" cy="377.30" rx="3.9" ry="2.7" fill="#fff" stroke="#1e1e1e" stroke-width="1"/>
<ellipse cx="263.00" cy="385.38" rx="3.9" ry="2.7" fill="#fff" stroke="#1e1e1e" stroke-width="1"/>
<ellipse cx="283.00" cy="407.33" rx="3.9" ry="2.7" fill="#fff" stroke="#1e1e1e" stroke-width="1"/>
<ellipse cx="296.25" cy="445.44" rx="3.9" ry="2.7" fill="#fff" stroke="#1e1e1e" stroke-width="1"/>
<rect x="60.70" y="404.80" width="108.30" height="76.20" fill="#fff" stroke="#555" stroke-width="1" />
<line x1="63.60" y1="413.00" x2="76.00" y2="413.00" stroke="#666" stroke-width="1" />
<ellipse cx="68.70" cy="413.00" rx="2.3" ry="2.6" fill="#1a1a1a" stroke="#1e1e1e" stroke-width="0.8"/>
<text x="76.90" y="417.26" font-size="12" text-anchor="start" fill="#1e1e1e" >Q-VD-OPH</text>
<line x1="63.60" y1="427.10" x2="76.00" y2="427.10" stroke="#666" stroke-width="1" />
<ellipse cx="68.70" cy="427.10" rx="2.5" ry="2.2" fill="#999" stroke="#1e1e1e" stroke-width="0.8"/>
<text x="76.90" y="431.36" font-size="12" text-anchor="start" fill="#1e1e1e" >Z-VAD-fmk</text>
<line x1="63.60" y1="442.00" x2="76.00" y2="442.00" stroke="#666" stroke-width="1" />
<ellipse cx="68.70" cy="442.00" rx="2.5" ry="2.2" fill="#fff" stroke="#1e1e1e" stroke-width="0.8"/>
<text x="76.90" y="446.26" font-size="12" text-anchor="start" fill="#1e1e1e" >BOC-D-fmk</text>
<line x1="63.60" y1="456.80" x2="76.00" y2="456.80" stroke="#666" stroke-width="1" />
<polygon points="68.7,454.3 71.5,458.8 65.9,458.8" fill="#fff" stroke="#444" stroke-width="0.8"/>
<text x="76.90" y="461.06" font-size="12" text-anchor="start" fill="#1e1e1e" >Ac-VEID-cho</text>
<line x1="63.60" y1="473.90" x2="80.00" y2="473.90" stroke="#222" stroke-width="1.1" />
<polygon points="70.2,469.4 74.2,475.9 66.2,475.9" fill="#1a1a1a" stroke="#1e1e1e" stroke-width="0.8"/>
<text x="78.80" y="476.66" font-size="12" text-anchor="start" fill="#1e1e1e" >Z-VDVAD-fmk</text>
<path d="M60.00,514.50 C74.77,515.74 128.06,516.51 148.60,521.96 C169.14,527.41 172.89,540.22 183.25,547.20 C193.61,554.18 201.71,558.20 210.75,563.84 C219.79,569.48 228.79,570.54 237.50,581.05 C246.21,591.57 258.75,619.31 263.00,626.96" fill="none" stroke="#3a3a3a" stroke-width="1.0"/>
<path d="M60.00,514.50 C74.77,516.60 128.06,514.69 148.60,527.12 C169.14,539.55 172.89,573.98 183.25,589.09 C193.61,604.20 201.71,611.46 210.75,617.77 C219.79,624.09 228.79,625.23 237.50,626.96 C246.21,628.68 258.75,627.91 263.00,628.10" fill="none" stroke="#3a3a3a" stroke-width="1.0"/>
<path d="M60.00,514.50 C74.77,516.89 128.06,515.07 148.60,528.84 C169.14,542.61 172.89,580.96 183.25,597.12 C193.61,613.28 201.71,620.84 210.75,625.81 C219.79,630.78 228.79,626.57 237.50,626.96 C246.21,627.34 258.75,627.91 263.00,628.10" fill="none" stroke="#3a3a3a" stroke-width="1.0"/>
<path d="M60.00,514.50 C74.77,520.81 128.06,537.26 148.60,552.37 C169.14,567.48 172.89,594.25 183.25,605.15 C193.61,616.05 201.71,614.14 210.75,617.77 C219.79,621.41 228.79,625.23 237.50,626.96 C246.21,628.68 258.75,627.91 263.00,628.10" fill="none" stroke="#3a3a3a" stroke-width="1.0"/>
<line x1="183.25" y1="539.17" x2="183.25" y2="555.24" stroke="#444" stroke-width="0.9" />
<line x1="179.75" y1="539.17" x2="186.75" y2="539.17" stroke="#444" stroke-width="0.9" />
<line x1="179.75" y1="555.24" x2="186.75" y2="555.24" stroke="#444" stroke-width="0.9" />
<line x1="210.75" y1="556.38" x2="210.75" y2="571.30" stroke="#444" stroke-width="0.9" />
<line x1="207.25" y1="556.38" x2="214.25" y2="556.38" stroke="#444" stroke-width="0.9" />
<line x1="207.25" y1="571.30" x2="214.25" y2="571.30" stroke="#444" stroke-width="0.9" />
<line x1="237.50" y1="563.84" x2="237.50" y2="598.27" stroke="#444" stroke-width="0.9" />
<line x1="234.00" y1="563.84" x2="241.00" y2="563.84" stroke="#444" stroke-width="0.9" />
<line x1="234.00" y1="598.27" x2="241.00" y2="598.27" stroke="#444" stroke-width="0.9" />
<line x1="148.60" y1="523.68" x2="148.60" y2="530.57" stroke="#444" stroke-width="0.9" />
<line x1="145.10" y1="523.68" x2="152.10" y2="523.68" stroke="#444" stroke-width="0.9" />
<line x1="145.10" y1="530.57" x2="152.10" y2="530.57" stroke="#444" stroke-width="0.9" />
<line x1="148.60" y1="523.11" x2="148.60" y2="534.58" stroke="#444" stroke-width="0.9" />
<line x1="145.10" y1="523.11" x2="152.10" y2="523.11" stroke="#444" stroke-width="0.9" />
<line x1="145.10" y1="534.58" x2="152.10" y2="534.58" stroke="#444" stroke-width="0.9" />
<line x1="148.60" y1="545.48" x2="148.60" y2="559.25" stroke="#444" stroke-width="0.9" />
<line x1="145.10" y1="545.48" x2="152.10" y2="545.48" stroke="#444" stroke-width="0.9" />
<line x1="145.10" y1="559.25" x2="152.10" y2="559.25" stroke="#444" stroke-width="0.9" />
<line x1="210.75" y1="614.91" x2="210.75" y2="620.64" stroke="#444" stroke-width="0.9" />
<line x1="207.25" y1="614.91" x2="214.25" y2="614.91" stroke="#444" stroke-width="0.9" />
<line x1="207.25" y1="620.64" x2="214.25" y2="620.64" stroke="#444" stroke-width="0.9" />
<ellipse cx="60.00" cy="514.50" rx="5" ry="2.8" fill="#fff" stroke="#1e1e1e" stroke-width="1"/>
<ellipse cx="148.60" cy="521.96" rx="5" ry="2.8" fill="#fff" stroke="#1e1e1e" stroke-width="1"/>
<ellipse cx="183.25" cy="547.20" rx="5" ry="2.8" fill="#fff" stroke="#1e1e1e" stroke-width="1"/>
<ellipse cx="210.75" cy="563.84" rx="5" ry="2.8" fill="#fff" stroke="#1e1e1e" stroke-width="1"/>
<ellipse cx="237.50" cy="581.05" rx="5" ry="2.8" fill="#fff" stroke="#1e1e1e" stroke-width="1"/>
<ellipse cx="263.00" cy="626.96" rx="5" ry="2.8" fill="#fff" stroke="#1e1e1e" stroke-width="1"/>
<ellipse cx="60.00" cy="514.50" rx="4.5" ry="2.6" fill="#999" stroke="#1e1e1e" stroke-width="1"/>
<ellipse cx="148.60" cy="527.12" rx="4.5" ry="2.6" fill="#999" stroke="#1e1e1e" stroke-width="1"/>
<ellipse cx="183.25" cy="589.09" rx="4.5" ry="2.6" fill="#999" stroke="#1e1e1e" stroke-width="1"/>
<ellipse cx="210.75" cy="617.77" rx="4.5" ry="2.6" fill="#999" stroke="#1e1e1e" stroke-width="1"/>
<ellipse cx="237.50" cy="626.96" rx="4.5" ry="2.6" fill="#999" stroke="#1e1e1e" stroke-width="1"/>
<ellipse cx="263.00" cy="628.10" rx="4.5" ry="2.6" fill="#999" stroke="#1e1e1e" stroke-width="1"/>
<ellipse cx="60.00" cy="514.50" rx="4.5" ry="2.6" fill="#1a1a1a" stroke="#1e1e1e" stroke-width="1"/>
<ellipse cx="148.60" cy="528.84" rx="4.5" ry="2.6" fill="#1a1a1a" stroke="#1e1e1e" stroke-width="1"/>
<ellipse cx="183.25" cy="597.12" rx="4.5" ry="2.6" fill="#1a1a1a" stroke="#1e1e1e" stroke-width="1"/>
<ellipse cx="210.75" cy="625.81" rx="4.5" ry="2.6" fill="#1a1a1a" stroke="#1e1e1e" stroke-width="1"/>
<ellipse cx="237.50" cy="626.96" rx="4.5" ry="2.6" fill="#1a1a1a" stroke="#1e1e1e" stroke-width="1"/>
<ellipse cx="263.00" cy="628.10" rx="4.5" ry="2.6" fill="#1a1a1a" stroke="#1e1e1e" stroke-width="1"/>
<polygon points="60.0,510.5 64.5,518.0 55.5,518.0" fill="#fff" stroke="#1e1e1e" stroke-width="0.9"/>
<polygon points="148.6,548.4 153.1,555.9 144.1,555.9" fill="#fff" stroke="#1e1e1e" stroke-width="0.9"/>
<polygon points="183.2,601.2 187.8,608.7 178.8,608.7" fill="#fff" stroke="#1e1e1e" stroke-width="0.9"/>
<polygon points="210.8,613.8 215.2,621.3 206.2,621.3" fill="#fff" stroke="#1e1e1e" stroke-width="0.9"/>
<polygon points="237.5,623.0 242.0,630.5 233.0,630.5" fill="#fff" stroke="#1e1e1e" stroke-width="0.9"/>
<polygon points="263.0,624.1 267.5,631.6 258.5,631.6" fill="#fff" stroke="#1e1e1e" stroke-width="0.9"/>
<text x="414.2" y="357.6" font-size="17" font-weight="bold" fill="#1e1e1e">d</text>
<rect x="456.20" y="367.20" width="275.40" height="187.20" fill="none" stroke="#1e1e1e" stroke-width="1.1" />
<line x1="451.40" y1="554.40" x2="456.20" y2="554.40" stroke="#1e1e1e" stroke-width="1" />
<text x="450.00" y="558.48" font-size="11.5" text-anchor="end" fill="#1e1e1e" >0</text>
<line x1="451.40" y1="507.60" x2="456.20" y2="507.60" stroke="#1e1e1e" stroke-width="1" />
<text x="450.00" y="511.68" font-size="11.5" text-anchor="end" fill="#1e1e1e" >25</text>
<line x1="451.40" y1="460.80" x2="456.20" y2="460.80" stroke="#1e1e1e" stroke-width="1" />
<text x="450.00" y="464.88" font-size="11.5" text-anchor="end" fill="#1e1e1e" >50</text>
<line x1="451.40" y1="414.00" x2="456.20" y2="414.00" stroke="#1e1e1e" stroke-width="1" />
<text x="450.00" y="418.08" font-size="11.5" text-anchor="end" fill="#1e1e1e" >75</text>
<line x1="451.40" y1="367.20" x2="456.20" y2="367.20" stroke="#1e1e1e" stroke-width="1" />
<text x="450.00" y="371.28" font-size="11.5" text-anchor="end" fill="#1e1e1e" >100</text>
<text transform="translate(420.30,455.50) rotate(-90)" x="0" y="4.26" font-size="12" text-anchor="middle" font-weight="bold" fill="#1e1e1e" textLength="115" lengthAdjust="spacingAndGlyphs">Inhibitory effect (%)</text>
<text x="450.80" y="569.16" font-size="12" text-anchor="end" fill="#1e1e1e" >Fmk</text>
<text x="450.80" y="581.56" font-size="12" text-anchor="end" fill="#1e1e1e" >OPH</text>
<rect x="464.00" y="395.28" width="11.60" height="159.12" fill="#fff" stroke="#1e1e1e" stroke-width="1" />
<rect x="464.00" y="442.08" width="11.60" height="112.32" fill="#ccc" stroke="#1e1e1e" stroke-width="1" />
<rect x="464.00" y="470.16" width="11.60" height="84.24" fill="#1c1c1c" stroke="#1e1e1e" stroke-width="1" />
<line x1="469.80" y1="395.28" x2="469.80" y2="382.18" stroke="#1e1e1e" stroke-width="1.1" />
<line x1="466.80" y1="382.18" x2="472.80" y2="382.18" stroke="#1e1e1e" stroke-width="1.1" />
<line x1="469.80" y1="442.08" x2="469.80" y2="432.72" stroke="#1e1e1e" stroke-width="1.1" />
<line x1="466.80" y1="432.72" x2="472.80" y2="432.72" stroke="#1e1e1e" stroke-width="1.1" />
<line x1="469.80" y1="470.16" x2="469.80" y2="457.06" stroke="#1e1e1e" stroke-width="1.1" />
<line x1="466.80" y1="457.06" x2="472.80" y2="457.06" stroke="#1e1e1e" stroke-width="1.1" />
<text x="469.80" y="569.16" font-size="12" text-anchor="middle" fill="#1e1e1e" >+</text>
<rect x="478.40" y="383.11" width="11.60" height="171.29" fill="#fff" stroke="#1e1e1e" stroke-width="1" />
<rect x="478.40" y="419.62" width="11.60" height="134.78" fill="#ccc" stroke="#1e1e1e" stroke-width="1" />
<rect x="478.40" y="467.35" width="11.60" height="87.05" fill="#1c1c1c" stroke="#1e1e1e" stroke-width="1" />
<line x1="484.20" y1="383.11" x2="484.20" y2="373.75" stroke="#1e1e1e" stroke-width="1.1" />
<line x1="481.20" y1="373.75" x2="487.20" y2="373.75" stroke="#1e1e1e" stroke-width="1.1" />
<line x1="484.20" y1="419.62" x2="484.20" y2="415.87" stroke="#1e1e1e" stroke-width="1.1" />
<line x1="481.20" y1="415.87" x2="487.20" y2="415.87" stroke="#1e1e1e" stroke-width="1.1" />
<line x1="484.20" y1="467.35" x2="484.20" y2="461.74" stroke="#1e1e1e" stroke-width="1.1" />
<line x1="481.20" y1="461.74" x2="487.20" y2="461.74" stroke="#1e1e1e" stroke-width="1.1" />
<text x="484.20" y="581.56" font-size="12" text-anchor="middle" fill="#1e1e1e" >+</text>
<line x1="462.70" y1="583.80" x2="491.20" y2="583.80" stroke="#1e1e1e" stroke-width="1.1" />
<text x="470.80" y="595.46" font-size="12" text-anchor="middle" fill="#1e1e1e" >1</text>
<rect x="503.35" y="535.68" width="11.60" height="18.72" fill="#fff" stroke="#1e1e1e" stroke-width="1" />
<rect x="503.35" y="541.30" width="11.60" height="13.10" fill="#ccc" stroke="#1e1e1e" stroke-width="1" />
<rect x="503.35" y="545.98" width="11.60" height="8.42" fill="#1c1c1c" stroke="#1e1e1e" stroke-width="1" />
<line x1="509.15" y1="535.68" x2="509.15" y2="528.19" stroke="#1e1e1e" stroke-width="1.1" />
<line x1="506.15" y1="528.19" x2="512.15" y2="528.19" stroke="#1e1e1e" stroke-width="1.1" />
<line x1="509.15" y1="541.30" x2="509.15" y2="540.36" stroke="#1e1e1e" stroke-width="1.1" />
<line x1="506.15" y1="540.36" x2="512.15" y2="540.36" stroke="#1e1e1e" stroke-width="1.1" />
<line x1="509.15" y1="545.98" x2="509.15" y2="542.23" stroke="#1e1e1e" stroke-width="1.1" />
<line x1="506.15" y1="542.23" x2="512.15" y2="542.23" stroke="#1e1e1e" stroke-width="1.1" />
<text x="509.15" y="569.16" font-size="12" text-anchor="middle" fill="#1e1e1e" >+</text>
<rect x="517.75" y="495.24" width="11.60" height="59.16" fill="#fff" stroke="#1e1e1e" stroke-width="1" />
<rect x="517.75" y="520.70" width="11.60" height="33.70" fill="#ccc" stroke="#1e1e1e" stroke-width="1" />
<rect x="517.75" y="534.37" width="11.60" height="20.03" fill="#1c1c1c" stroke="#1e1e1e" stroke-width="1" />
<line x1="523.55" y1="495.24" x2="523.55" y2="490.75" stroke="#1e1e1e" stroke-width="1.1" />
<line x1="520.55" y1="490.75" x2="526.55" y2="490.75" stroke="#1e1e1e" stroke-width="1.1" />
<line x1="523.55" y1="520.70" x2="523.55" y2="518.83" stroke="#1e1e1e" stroke-width="1.1" />
<line x1="520.55" y1="518.83" x2="526.55" y2="518.83" stroke="#1e1e1e" stroke-width="1.1" />
<line x1="523.55" y1="534.37" x2="523.55" y2="532.87" stroke="#1e1e1e" stroke-width="1.1" />
<line x1="520.55" y1="532.87" x2="526.55" y2="532.87" stroke="#1e1e1e" stroke-width="1.1" />
<text x="523.55" y="581.56" font-size="12" text-anchor="middle" fill="#1e1e1e" >+</text>
<line x1="503.40" y1="583.80" x2="530.60" y2="583.80" stroke="#1e1e1e" stroke-width="1.1" />
<text x="516.40" y="595.46" font-size="12" text-anchor="middle" fill="#1e1e1e" >2</text>
<rect x="542.70" y="382.74" width="11.60" height="171.66" fill="#fff" stroke="#1e1e1e" stroke-width="1" />
<rect x="542.70" y="432.72" width="11.60" height="121.68" fill="#ccc" stroke="#1e1e1e" stroke-width="1" />
<rect x="542.70" y="482.70" width="11.60" height="71.70" fill="#1c1c1c" stroke="#1e1e1e" stroke-width="1" />
<line x1="548.50" y1="382.74" x2="548.50" y2="378.81" stroke="#1e1e1e" stroke-width="1.1" />
<line x1="545.50" y1="378.81" x2="551.50" y2="378.81" stroke="#1e1e1e" stroke-width="1.1" />
<line x1="548.50" y1="432.72" x2="548.50" y2="417.74" stroke="#1e1e1e" stroke-width="1.1" />
<line x1="545.50" y1="417.74" x2="551.50" y2="417.74" stroke="#1e1e1e" stroke-width="1.1" />
<line x1="548.50" y1="482.70" x2="548.50" y2="464.54" stroke="#1e1e1e" stroke-width="1.1" />
<line x1="545.50" y1="464.54" x2="551.50" y2="464.54" stroke="#1e1e1e" stroke-width="1.1" />
<text x="548.50" y="569.16" font-size="12" text-anchor="middle" fill="#1e1e1e" >+</text>
<rect x="557.10" y="385.36" width="11.60" height="169.04" fill="#fff" stroke="#1e1e1e" stroke-width="1" />
<rect x="557.10" y="402.77" width="11.60" height="151.63" fill="#ccc" stroke="#1e1e1e" stroke-width="1" />
<rect x="557.10" y="447.70" width="11.60" height="106.70" fill="#1c1c1c" stroke="#1e1e1e" stroke-width="1" />
<line x1="562.90" y1="385.36" x2="562.90" y2="369.63" stroke="#1e1e1e" stroke-width="1.1" />
<line x1="559.90" y1="369.63" x2="565.90" y2="369.63" stroke="#1e1e1e" stroke-width="1.1" />
<line x1="562.90" y1="402.77" x2="562.90" y2="392.85" stroke="#1e1e1e" stroke-width="1.1" />
<line x1="559.90" y1="392.85" x2="565.90" y2="392.85" stroke="#1e1e1e" stroke-width="1.1" />
<line x1="562.90" y1="447.70" x2="562.90" y2="440.21" stroke="#1e1e1e" stroke-width="1.1" />
<line x1="559.90" y1="440.21" x2="565.90" y2="440.21" stroke="#1e1e1e" stroke-width="1.1" />
<text x="562.90" y="581.56" font-size="12" text-anchor="middle" fill="#1e1e1e" >+</text>
<line x1="540.00" y1="583.80" x2="568.40" y2="583.80" stroke="#1e1e1e" stroke-width="1.1" />
<text x="554.20" y="595.46" font-size="12" text-anchor="middle" fill="#1e1e1e" >3</text>
<rect x="582.05" y="391.54" width="11.60" height="162.86" fill="#fff" stroke="#1e1e1e" stroke-width="1" />
<rect x="582.05" y="451.44" width="11.60" height="102.96" fill="#ccc" stroke="#1e1e1e" stroke-width="1" />
<rect x="582.05" y="479.52" width="11.60" height="74.88" fill="#1c1c1c" stroke="#1e1e1e" stroke-width="1" />
<line x1="587.85" y1="391.54" x2="587.85" y2="382.74" stroke="#1e1e1e" stroke-width="1.1" />
<line x1="584.85" y1="382.74" x2="590.85" y2="382.74" stroke="#1e1e1e" stroke-width="1.1" />
<line x1="587.85" y1="451.44" x2="587.85" y2="438.34" stroke="#1e1e1e" stroke-width="1.1" />
<line x1="584.85" y1="438.34" x2="590.85" y2="438.34" stroke="#1e1e1e" stroke-width="1.1" />
<line x1="587.85" y1="479.52" x2="587.85" y2="469.04" stroke="#1e1e1e" stroke-width="1.1" />
<line x1="584.85" y1="469.04" x2="590.85" y2="469.04" stroke="#1e1e1e" stroke-width="1.1" />
<text x="587.85" y="569.16" font-size="12" text-anchor="middle" fill="#1e1e1e" >+</text>
<rect x="596.45" y="390.23" width="11.60" height="164.17" fill="#fff" stroke="#1e1e1e" stroke-width="1" />
<rect x="596.45" y="423.36" width="11.60" height="131.04" fill="#ccc" stroke="#1e1e1e" stroke-width="1" />
<rect x="596.45" y="447.70" width="11.60" height="106.70" fill="#1c1c1c" stroke="#1e1e1e" stroke-width="1" />
<line x1="602.25" y1="390.23" x2="602.25" y2="376.56" stroke="#1e1e1e" stroke-width="1.1" />
<line x1="599.25" y1="376.56" x2="605.25" y2="376.56" stroke="#1e1e1e" stroke-width="1.1" />
<line x1="602.25" y1="423.36" x2="602.25" y2="412.88" stroke="#1e1e1e" stroke-width="1.1" />
<line x1="599.25" y1="412.88" x2="605.25" y2="412.88" stroke="#1e1e1e" stroke-width="1.1" />
<line x1="602.25" y1="447.70" x2="602.25" y2="441.52" stroke="#1e1e1e" stroke-width="1.1" />
<line x1="599.25" y1="441.52" x2="605.25" y2="441.52" stroke="#1e1e1e" stroke-width="1.1" />
<text x="602.25" y="581.56" font-size="12" text-anchor="middle" fill="#1e1e1e" >+</text>
<line x1="580.60" y1="583.80" x2="607.90" y2="583.80" stroke="#1e1e1e" stroke-width="1.1" />
<text x="594.00" y="595.46" font-size="12" text-anchor="middle" fill="#1e1e1e" >7</text>
<rect x="621.40" y="381.24" width="11.60" height="173.16" fill="#fff" stroke="#1e1e1e" stroke-width="1" />
<rect x="621.40" y="442.08" width="11.60" height="112.32" fill="#ccc" stroke="#1e1e1e" stroke-width="1" />
<rect x="621.40" y="500.11" width="11.60" height="54.29" fill="#1c1c1c" stroke="#1e1e1e" stroke-width="1" />
<line x1="627.20" y1="381.24" x2="627.20" y2="370.94" stroke="#1e1e1e" stroke-width="1.1" />
<line x1="624.20" y1="370.94" x2="630.20" y2="370.94" stroke="#1e1e1e" stroke-width="1.1" />
<line x1="627.20" y1="442.08" x2="627.20" y2="436.46" stroke="#1e1e1e" stroke-width="1.1" />
<line x1="624.20" y1="436.46" x2="630.20" y2="436.46" stroke="#1e1e1e" stroke-width="1.1" />
<line x1="627.20" y1="500.11" x2="627.20" y2="484.20" stroke="#1e1e1e" stroke-width="1.1" />
<line x1="624.20" y1="484.20" x2="630.20" y2="484.20" stroke="#1e1e1e" stroke-width="1.1" />
<text x="627.20" y="569.16" font-size="12" text-anchor="middle" fill="#1e1e1e" >+</text>
<rect x="635.80" y="379.74" width="11.60" height="174.66" fill="#fff" stroke="#1e1e1e" stroke-width="1" />
<rect x="635.80" y="438.34" width="11.60" height="116.06" fill="#ccc" stroke="#1e1e1e" stroke-width="1" />
<rect x="635.80" y="473.16" width="11.60" height="81.24" fill="#1c1c1c" stroke="#1e1e1e" stroke-width="1" />
<line x1="641.60" y1="379.74" x2="641.60" y2="372.25" stroke="#1e1e1e" stroke-width="1.1" />
<line x1="638.60" y1="372.25" x2="644.60" y2="372.25" stroke="#1e1e1e" stroke-width="1.1" />
<line x1="641.60" y1="438.34" x2="641.60" y2="431.41" stroke="#1e1e1e" stroke-width="1.1" />
<line x1="638.60" y1="431.41" x2="644.60" y2="431.41" stroke="#1e1e1e" stroke-width="1.1" />
<line x1="641.60" y1="473.16" x2="641.60" y2="465.48" stroke="#1e1e1e" stroke-width="1.1" />
<line x1="638.60" y1="465.48" x2="644.60" y2="465.48" stroke="#1e1e1e" stroke-width="1.1" />
<text x="641.60" y="581.56" font-size="12" text-anchor="middle" fill="#1e1e1e" >+</text>
<line x1="619.30" y1="583.80" x2="646.90" y2="583.80" stroke="#1e1e1e" stroke-width="1.1" />
<text x="629.40" y="595.46" font-size="12" text-anchor="middle" fill="#1e1e1e" >8</text>
<rect x="660.75" y="385.92" width="11.60" height="168.48" fill="#fff" stroke="#1e1e1e" stroke-width="1" />
<rect x="660.75" y="462.67" width="11.60" height="91.73" fill="#ccc" stroke="#1e1e1e" stroke-width="1" />
<rect x="660.75" y="501.98" width="11.60" height="52.42" fill="#1c1c1c" stroke="#1e1e1e" stroke-width="1" />
<line x1="666.55" y1="385.92" x2="666.55" y2="381.24" stroke="#1e1e1e" stroke-width="1.1" />
<line x1="663.55" y1="381.24" x2="669.55" y2="381.24" stroke="#1e1e1e" stroke-width="1.1" />
<line x1="666.55" y1="462.67" x2="666.55" y2="453.31" stroke="#1e1e1e" stroke-width="1.1" />
<line x1="663.55" y1="453.31" x2="669.55" y2="453.31" stroke="#1e1e1e" stroke-width="1.1" />
<line x1="666.55" y1="501.98" x2="666.55" y2="485.70" stroke="#1e1e1e" stroke-width="1.1" />
<line x1="663.55" y1="485.70" x2="669.55" y2="485.70" stroke="#1e1e1e" stroke-width="1.1" />
<text x="666.55" y="569.16" font-size="12" text-anchor="middle" fill="#1e1e1e" >+</text>
<rect x="675.15" y="370.94" width="11.60" height="183.46" fill="#fff" stroke="#1e1e1e" stroke-width="1" />
<rect x="675.15" y="451.44" width="11.60" height="102.96" fill="#ccc" stroke="#1e1e1e" stroke-width="1" />
<rect x="675.15" y="481.39" width="11.60" height="73.01" fill="#1c1c1c" stroke="#1e1e1e" stroke-width="1" />
<line x1="680.95" y1="370.94" x2="680.95" y2="367.20" stroke="#1e1e1e" stroke-width="1.1" />
<line x1="677.95" y1="367.20" x2="683.95" y2="367.20" stroke="#1e1e1e" stroke-width="1.1" />
<line x1="680.95" y1="451.44" x2="680.95" y2="443.95" stroke="#1e1e1e" stroke-width="1.1" />
<line x1="677.95" y1="443.95" x2="683.95" y2="443.95" stroke="#1e1e1e" stroke-width="1.1" />
<line x1="680.95" y1="481.39" x2="680.95" y2="472.03" stroke="#1e1e1e" stroke-width="1.1" />
<line x1="677.95" y1="472.03" x2="683.95" y2="472.03" stroke="#1e1e1e" stroke-width="1.1" />
<text x="680.95" y="581.56" font-size="12" text-anchor="middle" fill="#1e1e1e" >+</text>
<line x1="663.20" y1="583.80" x2="690.40" y2="583.80" stroke="#1e1e1e" stroke-width="1.1" />
<text x="673.00" y="595.46" font-size="12" text-anchor="middle" fill="#1e1e1e" >9</text>
<rect x="700.10" y="438.90" width="11.60" height="115.50" fill="#fff" stroke="#1e1e1e" stroke-width="1" />
<rect x="700.10" y="507.60" width="11.60" height="46.80" fill="#ccc" stroke="#1e1e1e" stroke-width="1" />
<rect x="700.10" y="525.76" width="11.60" height="28.64" fill="#1c1c1c" stroke="#1e1e1e" stroke-width="1" />
<line x1="705.90" y1="438.90" x2="705.90" y2="419.62" stroke="#1e1e1e" stroke-width="1.1" />
<line x1="702.90" y1="419.62" x2="708.90" y2="419.62" stroke="#1e1e1e" stroke-width="1.1" />
<line x1="705.90" y1="507.60" x2="705.90" y2="496.37" stroke="#1e1e1e" stroke-width="1.1" />
<line x1="702.90" y1="496.37" x2="708.90" y2="496.37" stroke="#1e1e1e" stroke-width="1.1" />
<line x1="705.90" y1="525.76" x2="705.90" y2="514.15" stroke="#1e1e1e" stroke-width="1.1" />
<line x1="702.90" y1="514.15" x2="708.90" y2="514.15" stroke="#1e1e1e" stroke-width="1.1" />
<text x="705.90" y="569.16" font-size="12" text-anchor="middle" fill="#1e1e1e" >+</text>
<rect x="714.50" y="409.88" width="11.60" height="144.52" fill="#fff" stroke="#1e1e1e" stroke-width="1" />
<rect x="714.50" y="477.65" width="11.60" height="76.75" fill="#ccc" stroke="#1e1e1e" stroke-width="1" />
<rect x="714.50" y="503.29" width="11.60" height="51.11" fill="#1c1c1c" stroke="#1e1e1e" stroke-width="1" />
<line x1="720.30" y1="409.88" x2="720.30" y2="390.23" stroke="#1e1e1e" stroke-width="1.1" />
<line x1="717.30" y1="390.23" x2="723.30" y2="390.23" stroke="#1e1e1e" stroke-width="1.1" />
<line x1="720.30" y1="477.65" x2="720.30" y2="465.48" stroke="#1e1e1e" stroke-width="1.1" />
<line x1="717.30" y1="465.48" x2="723.30" y2="465.48" stroke="#1e1e1e" stroke-width="1.1" />
<line x1="720.30" y1="503.29" x2="720.30" y2="491.69" stroke="#1e1e1e" stroke-width="1.1" />
<line x1="717.30" y1="491.69" x2="723.30" y2="491.69" stroke="#1e1e1e" stroke-width="1.1" />
<text x="720.30" y="581.56" font-size="12" text-anchor="middle" fill="#1e1e1e" >+</text>
<line x1="703.90" y1="583.80" x2="731.10" y2="583.80" stroke="#1e1e1e" stroke-width="1.1" />
<text x="715.60" y="595.46" font-size="12" text-anchor="middle" fill="#1e1e1e" >10</text>
<text x="603.00" y="609.26" font-size="12" text-anchor="middle" font-weight="bold" fill="#1e1e1e" >Human recombinant caspases</text>
<rect x="734.80" y="368.30" width="6.20" height="6.20" fill="#fff" stroke="#1e1e1e" stroke-width="1" />
<text x="745.70" y="376.06" font-size="12" text-anchor="start" fill="#1e1e1e" >1 μM</text>
<rect x="734.80" y="387.50" width="6.20" height="6.20" fill="#ccc" stroke="#1e1e1e" stroke-width="1" />
<text x="745.70" y="395.26" font-size="12" text-anchor="start" fill="#1e1e1e" >0.25μM</text>
<rect x="734.80" y="407.60" width="6.20" height="6.20" fill="#1c1c1c" stroke="#1e1e1e" stroke-width="1" />
<text x="745.70" y="415.36" font-size="12" text-anchor="start" fill="#1e1e1e" >0.1 μM</text>
<text x="414" y="640.4" font-size="17" font-weight="bold" fill="#1e1e1e">e</text>
<line x1="461.00" y1="650.00" x2="599.00" y2="650.00" stroke="#1e1e1e" stroke-width="1.1" />
<line x1="461.00" y1="650.00" x2="461.00" y2="774.00" stroke="#1e1e1e" stroke-width="1.1" />
<line x1="461.00" y1="774.00" x2="599.00" y2="774.00" stroke="#1e1e1e" stroke-width="1.1" />
<line x1="599.00" y1="650.00" x2="599.00" y2="774.00" stroke="#1e1e1e" stroke-width="1.1" />
<line x1="457.50" y1="774.00" x2="461.00" y2="774.00" stroke="#1e1e1e" stroke-width="1" />
<text x="451.50" y="778.26" font-size="12" text-anchor="end" fill="#1e1e1e" >0</text>
<line x1="457.50" y1="732.67" x2="461.00" y2="732.67" stroke="#1e1e1e" stroke-width="1" />
<text x="451.50" y="736.93" font-size="12" text-anchor="end" fill="#1e1e1e" >20</text>
<line x1="457.50" y1="691.33" x2="461.00" y2="691.33" stroke="#1e1e1e" stroke-width="1" />
<text x="451.50" y="695.59" font-size="12" text-anchor="end" fill="#1e1e1e" >40</text>
<line x1="457.50" y1="650.00" x2="461.00" y2="650.00" stroke="#1e1e1e" stroke-width="1" />
<text x="451.50" y="654.26" font-size="12" text-anchor="end" fill="#1e1e1e" >60</text>
<line x1="461.00" y1="774.00" x2="461.00" y2="777.00" stroke="#1e1e1e" stroke-width="1" />
<line x1="526.50" y1="774.00" x2="526.50" y2="777.00" stroke="#1e1e1e" stroke-width="1" />
<line x1="592.00" y1="774.00" x2="592.00" y2="777.00" stroke="#1e1e1e" stroke-width="1" />
<text x="460.50" y="787.96" font-size="12" text-anchor="middle" fill="#1e1e1e" >0</text>
<text x="525.40" y="787.56" font-size="12" text-anchor="middle" fill="#1e1e1e" >100</text>
<text x="596.50" y="787.96" font-size="12" text-anchor="middle" fill="#1e1e1e" >200</text>
<text x="534.30" y="800.46" font-size="12" text-anchor="middle" font-weight="bold" fill="#1e1e1e" >[Inhibitor, μM]</text>
<text transform="translate(430.00,714.90) rotate(-90)" x="0" y="4.26" font-size="12" text-anchor="middle" font-weight="bold" fill="#1e1e1e" textLength="148" lengthAdjust="spacingAndGlyphs">% Neurons (PS+/7-AAD+)</text>
<polyline points="461.00,678.93 493.75,674.80 526.50,681.00 592.00,676.87" fill="none" stroke="#1e1e1e" stroke-width="1.1"/>
<polyline points="461.00,678.93 493.75,676.87 526.50,695.47 592.00,698.57" fill="none" stroke="#1e1e1e" stroke-width="1.1"/>
<polyline points="461.00,678.93 493.75,709.93 526.50,761.60 592.00,764.70" fill="none" stroke="#1e1e1e" stroke-width="1.1"/>
<line x1="461.00" y1="670.66" x2="461.00" y2="687.20" stroke="#1e1e1e" stroke-width="1.1" />
<line x1="455.00" y1="670.66" x2="467.00" y2="670.66" stroke="#1e1e1e" stroke-width="1.3" />
<line x1="455.00" y1="687.20" x2="467.00" y2="687.20" stroke="#1e1e1e" stroke-width="1.3" />
<line x1="493.75" y1="666.53" x2="493.75" y2="683.07" stroke="#1e1e1e" stroke-width="1.1" />
<line x1="487.75" y1="666.53" x2="499.75" y2="666.53" stroke="#1e1e1e" stroke-width="1.3" />
<line x1="487.75" y1="683.07" x2="499.75" y2="683.07" stroke="#1e1e1e" stroke-width="1.3" />
<line x1="526.50" y1="676.87" x2="526.50" y2="685.13" stroke="#1e1e1e" stroke-width="1.1" />
<line x1="520.50" y1="676.87" x2="532.50" y2="676.87" stroke="#1e1e1e" stroke-width="1.3" />
<line x1="520.50" y1="685.13" x2="532.50" y2="685.13" stroke="#1e1e1e" stroke-width="1.3" />
<line x1="592.00" y1="674.80" x2="592.00" y2="678.93" stroke="#1e1e1e" stroke-width="1.1" />
<line x1="586.00" y1="674.80" x2="598.00" y2="674.80" stroke="#1e1e1e" stroke-width="1.3" />
<line x1="586.00" y1="678.93" x2="598.00" y2="678.93" stroke="#1e1e1e" stroke-width="1.3" />
<line x1="461.00" y1="670.66" x2="461.00" y2="687.20" stroke="#1e1e1e" stroke-width="1.1" />
<line x1="455.00" y1="670.66" x2="467.00" y2="670.66" stroke="#1e1e1e" stroke-width="1.3" />
<line x1="455.00" y1="687.20" x2="467.00" y2="687.20" stroke="#1e1e1e" stroke-width="1.3" />
<line x1="493.75" y1="666.53" x2="493.75" y2="687.20" stroke="#1e1e1e" stroke-width="1.1" />
<line x1="487.75" y1="666.53" x2="499.75" y2="666.53" stroke="#1e1e1e" stroke-width="1.3" />
<line x1="487.75" y1="687.20" x2="499.75" y2="687.20" stroke="#1e1e1e" stroke-width="1.3" />
<line x1="526.50" y1="690.30" x2="526.50" y2="700.63" stroke="#1e1e1e" stroke-width="1.1" />
<line x1="520.50" y1="690.30" x2="532.50" y2="690.30" stroke="#1e1e1e" stroke-width="1.3" />
<line x1="520.50" y1="700.63" x2="532.50" y2="700.63" stroke="#1e1e1e" stroke-width="1.3" />
<line x1="592.00" y1="689.27" x2="592.00" y2="707.87" stroke="#1e1e1e" stroke-width="1.1" />
<line x1="586.00" y1="689.27" x2="598.00" y2="689.27" stroke="#1e1e1e" stroke-width="1.3" />
<line x1="586.00" y1="707.87" x2="598.00" y2="707.87" stroke="#1e1e1e" stroke-width="1.3" />
<line x1="461.00" y1="670.66" x2="461.00" y2="687.20" stroke="#1e1e1e" stroke-width="1.1" />
<line x1="455.00" y1="670.66" x2="467.00" y2="670.66" stroke="#1e1e1e" stroke-width="1.3" />
<line x1="455.00" y1="687.20" x2="467.00" y2="687.20" stroke="#1e1e1e" stroke-width="1.3" />
<line x1="493.75" y1="693.40" x2="493.75" y2="726.47" stroke="#1e1e1e" stroke-width="1.1" />
<line x1="487.75" y1="693.40" x2="499.75" y2="693.40" stroke="#1e1e1e" stroke-width="1.3" />
<line x1="487.75" y1="726.47" x2="499.75" y2="726.47" stroke="#1e1e1e" stroke-width="1.3" />
<line x1="526.50" y1="749.20" x2="526.50" y2="774.00" stroke="#1e1e1e" stroke-width="1.1" />
<line x1="520.50" y1="749.20" x2="532.50" y2="749.20" stroke="#1e1e1e" stroke-width="1.3" />
<line x1="520.50" y1="774.00" x2="532.50" y2="774.00" stroke="#1e1e1e" stroke-width="1.3" />
<line x1="592.00" y1="752.30" x2="592.00" y2="774.00" stroke="#1e1e1e" stroke-width="1.1" />
<line x1="586.00" y1="752.30" x2="598.00" y2="752.30" stroke="#1e1e1e" stroke-width="1.3" />
<line x1="586.00" y1="774.00" x2="598.00" y2="774.00" stroke="#1e1e1e" stroke-width="1.3" />
<rect x="453.70" y="674.93" width="12.00" height="8.00" fill="#fff" stroke="#1e1e1e" stroke-width="1.1" />
<rect x="487.75" y="670.80" width="12.00" height="8.00" fill="#fff" stroke="#1e1e1e" stroke-width="1.1" />
<rect x="520.50" y="677.00" width="12.00" height="8.00" fill="#fff" stroke="#1e1e1e" stroke-width="1.1" />
<rect x="586.00" y="672.87" width="12.00" height="8.00" fill="#fff" stroke="#1e1e1e" stroke-width="1.1" />
<rect x="455.00" y="674.93" width="12.00" height="8.00" fill="#c8c8c8" stroke="#1e1e1e" stroke-width="1.1" />
<rect x="487.75" y="672.87" width="12.00" height="8.00" fill="#c8c8c8" stroke="#1e1e1e" stroke-width="1.1" />
<rect x="520.50" y="691.47" width="12.00" height="8.00" fill="#c8c8c8" stroke="#1e1e1e" stroke-width="1.1" />
<rect x="586.00" y="694.57" width="12.00" height="8.00" fill="#c8c8c8" stroke="#1e1e1e" stroke-width="1.1" />
<rect x="456.30" y="674.93" width="12.00" height="8.00" fill="#1a1a1a" stroke="#1e1e1e" stroke-width="1.1" />
<rect x="487.75" y="705.93" width="12.00" height="8.00" fill="#1a1a1a" stroke="#1e1e1e" stroke-width="1.1" />
<rect x="520.50" y="757.60" width="12.00" height="8.00" fill="#1a1a1a" stroke="#1e1e1e" stroke-width="1.1" />
<rect x="586.00" y="760.70" width="12.00" height="8.00" fill="#1a1a1a" stroke="#1e1e1e" stroke-width="1.1" />
<text x="525.2" y="726.7" font-size="12" text-anchor="middle" fill="#1e1e1e">*</text>
<text x="574.0" y="726.7" font-size="12" text-anchor="middle" fill="#1e1e1e">*</text>
<text x="582.0" y="726.7" font-size="12" text-anchor="middle" fill="#1e1e1e">*</text>
<text x="652.50" y="641.46" font-size="12" text-anchor="middle" fill="#1e1e1e" >1</text>
<text x="673.70" y="641.46" font-size="12" text-anchor="middle" fill="#1e1e1e" >2</text>
<text x="694.30" y="641.46" font-size="12" text-anchor="middle" fill="#1e1e1e" >3</text>
<text x="714.80" y="641.46" font-size="12" text-anchor="middle" fill="#1e1e1e" >4</text>
<defs><filter id="bl" x="-20%" y="-80%" width="140%" height="260%"><feGaussianBlur stdDeviation="0.45"/></filter></defs>
<rect x="638.60" y="651.00" width="91.40" height="30.00" fill="#f0f0f0" stroke="#1e1e1e" stroke-width="1.2" />
<rect x="638.60" y="681.00" width="91.40" height="12.30" fill="#f4f4f4" stroke="#1e1e1e" stroke-width="1.2" />
<rect x="645.8" y="654.1" width="15.9" height="3.1" rx="2" ry="1.2" fill="#0a0a0a" filter="url(#bl)"/>
<rect x="666.8" y="655.2" width="13.3" height="2.0" rx="2" ry="1.2" fill="#707070" filter="url(#bl)"/>
<rect x="686.5" y="655.0" width="15.2" height="2.2" rx="2" ry="1.2" fill="#505050" filter="url(#bl)"/>
<rect x="705.5" y="654.7" width="17.8" height="3.0" rx="2" ry="1.2" fill="#0a0a0a" filter="url(#bl)"/>
<rect x="667.4" y="672.3" width="13.3" height="2.6" rx="2" ry="1.2" fill="#3a3a3a" filter="url(#bl)"/>
<rect x="687.1" y="673.0" width="15.2" height="2.5" rx="2" ry="1.2" fill="#454545" filter="url(#bl)"/>
<rect x="645.2" y="685.8" width="19.4" height="3.1" rx="2" ry="1.2" fill="#050505" filter="url(#bl)"/>
<rect x="667.5" y="685.9" width="18.1" height="3.1" rx="2" ry="1.2" fill="#050505" filter="url(#bl)"/>
<rect x="688" y="685.9" width="18.0" height="3.1" rx="2" ry="1.2" fill="#050505" filter="url(#bl)"/>
<rect x="709" y="685.9" width="19.0" height="3.0" rx="2" ry="1.2" fill="#050505" filter="url(#bl)"/>
<text x="737.80" y="659.86" font-size="12" text-anchor="start" fill="#1e1e1e" >-52 kDa</text>
<text x="737.80" y="676.46" font-size="12" text-anchor="start" fill="#1e1e1e" >-35 kDa</text>
<text x="736.70" y="692.26" font-size="12" text-anchor="start" fill="#1e1e1e" >- Actin</text>
<rect x="647.60" y="706.50" width="6.80" height="6.60" fill="#1a1a1a" stroke="#1e1e1e" stroke-width="1" />
<text x="658.60" y="713.96" font-size="12" text-anchor="start" fill="#1e1e1e" >Q-VD-OPH</text>
<rect x="647.60" y="723.10" width="6.80" height="6.60" fill="#fff" stroke="#1e1e1e" stroke-width="1" />
<text x="658.60" y="730.56" font-size="12" text-anchor="start" fill="#1e1e1e" >Boc-D-fmk</text>
<rect x="647.60" y="740.50" width="6.80" height="6.60" fill="#c8c8c8" stroke="#1e1e1e" stroke-width="1" />
<text x="658.60" y="747.96" font-size="12" text-anchor="start" fill="#1e1e1e" >Boc-D-OPH</text>
<text x="-0.6" y="699.7" font-size="17" font-weight="bold" fill="#1e1e1e">f</text>
<rect x="61.70" y="691.10" width="152.60" height="274.30" fill="none" stroke="#1e1e1e" stroke-width="1.1" />
<line x1="61.70" y1="830.60" x2="214.30" y2="830.60" stroke="#1e1e1e" stroke-width="1.1" />
<line x1="59.30" y1="830.60" x2="61.70" y2="830.60" stroke="#1e1e1e" stroke-width="1" />
<text x="58.80" y="834.86" font-size="12" text-anchor="end" fill="#1e1e1e" >0</text>
<line x1="59.30" y1="803.70" x2="61.70" y2="803.70" stroke="#1e1e1e" stroke-width="1" />
<text x="58.80" y="807.96" font-size="12" text-anchor="end" fill="#1e1e1e" >5</text>
<line x1="59.30" y1="776.80" x2="61.70" y2="776.80" stroke="#1e1e1e" stroke-width="1" />
<text x="58.80" y="781.06" font-size="12" text-anchor="end" fill="#1e1e1e" >10</text>
<line x1="59.30" y1="749.90" x2="61.70" y2="749.90" stroke="#1e1e1e" stroke-width="1" />
<text x="58.80" y="754.16" font-size="12" text-anchor="end" fill="#1e1e1e" >15</text>
<line x1="59.30" y1="723.00" x2="61.70" y2="723.00" stroke="#1e1e1e" stroke-width="1" />
<text x="58.80" y="727.26" font-size="12" text-anchor="end" fill="#1e1e1e" >20</text>
<line x1="59.30" y1="696.10" x2="61.70" y2="696.10" stroke="#1e1e1e" stroke-width="1" />
<text x="58.80" y="699.86" font-size="12" text-anchor="end" fill="#1e1e1e" >25</text>
<line x1="59.30" y1="965.40" x2="61.70" y2="965.40" stroke="#1e1e1e" stroke-width="1" />
<text x="58.80" y="969.66" font-size="12" text-anchor="end" fill="#1e1e1e" >0</text>
<line x1="59.30" y1="938.80" x2="61.70" y2="938.80" stroke="#1e1e1e" stroke-width="1" />
<text x="58.80" y="943.06" font-size="12" text-anchor="end" fill="#1e1e1e" >5</text>
<line x1="59.30" y1="912.20" x2="61.70" y2="912.20" stroke="#1e1e1e" stroke-width="1" />
<text x="58.80" y="916.46" font-size="12" text-anchor="end" fill="#1e1e1e" >10</text>
<line x1="59.30" y1="885.60" x2="61.70" y2="885.60" stroke="#1e1e1e" stroke-width="1" />
<text x="58.80" y="889.86" font-size="12" text-anchor="end" fill="#1e1e1e" >15</text>
<line x1="59.30" y1="859.00" x2="61.70" y2="859.00" stroke="#1e1e1e" stroke-width="1" />
<text x="58.80" y="863.26" font-size="12" text-anchor="end" fill="#1e1e1e" >20</text>
<text transform="translate(30,828) rotate(-90)" x="0" y="4.3" font-size="12" font-weight="bold" text-anchor="middle" fill="#1e1e1e">Specific Caspase activity (pmol.min.mg<tspan dy="-4" font-size="8">-1</tspan><tspan dy="4">)</tspan></text>
<line x1="73.80" y1="825.76" x2="73.80" y2="820.38" stroke="#444" stroke-width="1.1" />
<line x1="70.80" y1="820.38" x2="76.80" y2="820.38" stroke="#444" stroke-width="1.3" />
<rect x="68.60" y="825.76" width="10.40" height="4.84" fill="#1e1e1e" stroke="#1e1e1e" stroke-width="1" />
<line x1="84.20" y1="827.37" x2="84.20" y2="824.68" stroke="#444" stroke-width="1.1" />
<line x1="81.20" y1="824.68" x2="87.20" y2="824.68" stroke="#444" stroke-width="1.3" />
<rect x="79.00" y="827.37" width="10.40" height="3.23" fill="#fff" stroke="#1e1e1e" stroke-width="1" />
<line x1="104.20" y1="728.92" x2="104.20" y2="712.78" stroke="#444" stroke-width="1.1" />
<line x1="101.20" y1="712.78" x2="107.20" y2="712.78" stroke="#444" stroke-width="1.3" />
<rect x="99.00" y="728.92" width="10.40" height="101.68" fill="#1e1e1e" stroke="#1e1e1e" stroke-width="1" />
<line x1="114.60" y1="823.07" x2="114.60" y2="819.84" stroke="#444" stroke-width="1.1" />
<line x1="111.60" y1="819.84" x2="117.60" y2="819.84" stroke="#444" stroke-width="1.3" />
<rect x="109.40" y="823.07" width="10.40" height="7.53" fill="#fff" stroke="#1e1e1e" stroke-width="1" />
<line x1="134.00" y1="735.37" x2="134.00" y2="734.30" stroke="#444" stroke-width="1.1" />
<line x1="131.00" y1="734.30" x2="137.00" y2="734.30" stroke="#444" stroke-width="1.3" />
<rect x="128.80" y="735.37" width="10.40" height="95.23" fill="#1e1e1e" stroke="#1e1e1e" stroke-width="1" />
<line x1="144.40" y1="819.84" x2="144.40" y2="818.23" stroke="#444" stroke-width="1.1" />
<line x1="141.40" y1="818.23" x2="147.40" y2="818.23" stroke="#444" stroke-width="1.3" />
<rect x="139.20" y="819.84" width="10.40" height="10.76" fill="#fff" stroke="#1e1e1e" stroke-width="1" />
<line x1="164.50" y1="751.51" x2="164.50" y2="740.75" stroke="#444" stroke-width="1.1" />
<line x1="161.50" y1="740.75" x2="167.50" y2="740.75" stroke="#444" stroke-width="1.3" />
<rect x="159.30" y="751.51" width="10.40" height="79.09" fill="#1e1e1e" stroke="#1e1e1e" stroke-width="1" />
<line x1="174.90" y1="826.30" x2="174.90" y2="825.22" stroke="#444" stroke-width="1.1" />
<line x1="171.90" y1="825.22" x2="177.90" y2="825.22" stroke="#444" stroke-width="1.3" />
<rect x="169.70" y="826.30" width="10.40" height="4.30" fill="#fff" stroke="#1e1e1e" stroke-width="1" />
<line x1="193.90" y1="784.87" x2="193.90" y2="782.18" stroke="#444" stroke-width="1.1" />
<line x1="190.90" y1="782.18" x2="196.90" y2="782.18" stroke="#444" stroke-width="1.3" />
<rect x="188.70" y="784.87" width="10.40" height="45.73" fill="#1e1e1e" stroke="#1e1e1e" stroke-width="1" />
<line x1="204.30" y1="820.92" x2="204.30" y2="817.69" stroke="#444" stroke-width="1.1" />
<line x1="201.30" y1="817.69" x2="207.30" y2="817.69" stroke="#444" stroke-width="1.3" />
<rect x="199.10" y="820.92" width="10.40" height="9.68" fill="#fff" stroke="#1e1e1e" stroke-width="1" />
<line x1="72.90" y1="952.63" x2="72.90" y2="948.38" stroke="#444" stroke-width="1.1" />
<line x1="69.90" y1="948.38" x2="75.90" y2="948.38" stroke="#444" stroke-width="1.3" />
<rect x="67.70" y="952.63" width="10.40" height="12.77" fill="#1e1e1e" stroke="#1e1e1e" stroke-width="1" />
<line x1="83.30" y1="953.16" x2="83.30" y2="946.78" stroke="#444" stroke-width="1.1" />
<line x1="80.30" y1="946.78" x2="86.30" y2="946.78" stroke="#444" stroke-width="1.3" />
<rect x="78.10" y="953.16" width="10.40" height="12.24" fill="#fff" stroke="#1e1e1e" stroke-width="1" />
<line x1="103.60" y1="893.58" x2="103.60" y2="876.02" stroke="#444" stroke-width="1.1" />
<line x1="100.60" y1="876.02" x2="106.60" y2="876.02" stroke="#444" stroke-width="1.3" />
<rect x="98.40" y="893.58" width="10.40" height="71.82" fill="#1e1e1e" stroke="#1e1e1e" stroke-width="1" />
<line x1="114.00" y1="957.95" x2="114.00" y2="954.76" stroke="#444" stroke-width="1.1" />
<line x1="111.00" y1="954.76" x2="117.00" y2="954.76" stroke="#444" stroke-width="1.3" />
<rect x="108.80" y="957.95" width="10.40" height="7.45" fill="#fff" stroke="#1e1e1e" stroke-width="1" />
<line x1="134.00" y1="902.62" x2="134.00" y2="885.60" stroke="#444" stroke-width="1.1" />
<line x1="131.00" y1="885.60" x2="137.00" y2="885.60" stroke="#444" stroke-width="1.3" />
<rect x="128.80" y="902.62" width="10.40" height="62.78" fill="#1e1e1e" stroke="#1e1e1e" stroke-width="1" />
<line x1="144.40" y1="957.42" x2="144.40" y2="955.29" stroke="#444" stroke-width="1.1" />
<line x1="141.40" y1="955.29" x2="147.40" y2="955.29" stroke="#444" stroke-width="1.3" />
<rect x="139.20" y="957.42" width="10.40" height="7.98" fill="#fff" stroke="#1e1e1e" stroke-width="1" />
<line x1="164.40" y1="918.05" x2="164.40" y2="905.82" stroke="#444" stroke-width="1.1" />
<line x1="161.40" y1="905.82" x2="167.40" y2="905.82" stroke="#444" stroke-width="1.3" />
<rect x="159.20" y="918.05" width="10.40" height="47.35" fill="#1e1e1e" stroke="#1e1e1e" stroke-width="1" />
<line x1="174.80" y1="952.63" x2="174.80" y2="943.59" stroke="#444" stroke-width="1.1" />
<line x1="171.80" y1="943.59" x2="177.80" y2="943.59" stroke="#444" stroke-width="1.3" />
<rect x="169.60" y="952.63" width="10.40" height="12.77" fill="#fff" stroke="#1e1e1e" stroke-width="1" />
<line x1="194.50" y1="946.25" x2="194.50" y2="934.01" stroke="#444" stroke-width="1.1" />
<line x1="191.50" y1="934.01" x2="197.50" y2="934.01" stroke="#444" stroke-width="1.3" />
<rect x="189.30" y="946.25" width="10.40" height="19.15" fill="#1e1e1e" stroke="#1e1e1e" stroke-width="1" />
<line x1="204.90" y1="957.42" x2="204.90" y2="954.76" stroke="#444" stroke-width="1.1" />
<line x1="201.90" y1="954.76" x2="207.90" y2="954.76" stroke="#444" stroke-width="1.3" />
<rect x="199.70" y="957.42" width="10.40" height="7.98" fill="#fff" stroke="#1e1e1e" stroke-width="1" />
<text x="143.40" y="702.56" font-size="12" text-anchor="middle" fill="#1e1e1e" >Caspase-3/7</text>
<polyline points="103.80,710.00 103.80,704.50 195.75,704.50 195.75,773.75" fill="none" stroke="#333" stroke-width="1.1"/>
<line x1="132.50" y1="704.50" x2="132.50" y2="728.80" stroke="#333" stroke-width="1.1" />
<line x1="163.75" y1="704.50" x2="163.75" y2="735.00" stroke="#333" stroke-width="1.1" />
<text x="118.75" y="716.76" font-size="12" text-anchor="middle" fill="#1e1e1e" >ns</text>
<text x="143.8" y="716.9" font-size="12.5" font-style="italic" text-anchor="middle" fill="#1e1e1e">#</text>
<text x="170.0" y="716.9" font-size="12.5" font-style="italic" text-anchor="middle" fill="#1e1e1e">#</text>
<text x="175.5" y="716.9" font-size="12.5" font-style="italic" text-anchor="middle" fill="#1e1e1e">#</text>
<text x="143.70" y="844.76" font-size="12" text-anchor="middle" fill="#1e1e1e" >Caspase-9</text>
<polyline points="104.00,868.90 104.00,859.00 195.00,859.00 195.00,923.10" fill="none" stroke="#333" stroke-width="1.1"/>
<line x1="132.10" y1="859.00" x2="132.10" y2="874.50" stroke="#333" stroke-width="1.1" />
<line x1="161.90" y1="859.00" x2="161.90" y2="896.00" stroke="#333" stroke-width="1.1" />
<text x="119.00" y="870.56" font-size="12" text-anchor="middle" fill="#1e1e1e" >ns</text>
<text x="145.4" y="875.5" font-size="12" text-anchor="middle" fill="#1e1e1e">*</text>
<text x="171.8" y="875.5" font-size="12" text-anchor="middle" fill="#1e1e1e">*</text>
<text x="180.0" y="875.5" font-size="12" text-anchor="middle" fill="#1e1e1e">*</text>
<rect x="228.70" y="700.40" width="8.80" height="8.80" fill="#1e1e1e" stroke="#1e1e1e" stroke-width="1" />
<text x="239.00" y="709.06" font-size="12" text-anchor="start" fill="#1e1e1e" >Ipsilateral</text>
<rect x="228.70" y="717.60" width="8.80" height="8.80" fill="#fff" stroke="#1e1e1e" stroke-width="1" />
<text x="239.00" y="726.26" font-size="12" text-anchor="start" fill="#1e1e1e" >Contralateral</text>
<text transform="translate(86.6,975.4) rotate(-55)" font-size="12.7" font-weight="bold" text-anchor="end" fill="#1e1e1e">Co.</text>
<text transform="translate(114,974.8) rotate(-55)" font-size="12.7" font-weight="bold" text-anchor="end" fill="#1e1e1e">Isch.</text>
<text transform="translate(139.6,975.4) rotate(-55)" font-size="12.7" font-weight="bold" text-anchor="end" fill="#1e1e1e">+Boc-D-fmk</text>
<text transform="translate(170.2,974.6) rotate(-55)" font-size="12.7" font-weight="bold" text-anchor="end" fill="#1e1e1e">+Z-VAD-fmk</text>
<text transform="translate(202.5,976.8) rotate(-55)" font-size="12.7" font-weight="bold" text-anchor="end" fill="#1e1e1e">+Q-VD-OPH</text>
<text x="261.2" y="819.6" font-size="17" font-weight="bold" fill="#1e1e1e">g</text>
<rect x="264.00" y="837.60" width="7.00" height="6.40" fill="#fff" stroke="#1e1e1e" stroke-width="1" />
<text x="274.00" y="845.06" font-size="12" text-anchor="start" fill="#1e1e1e" >Boc-D-fmk</text>
<rect x="264.00" y="850.90" width="7.00" height="6.40" fill="url(#hs)" stroke="#1e1e1e" stroke-width="1" />
<text x="274.00" y="858.36" font-size="12" text-anchor="start" fill="#1e1e1e" >Boc-D-OPH</text>
<rect x="264.00" y="864.20" width="7.00" height="6.40" fill="#1e1e1e" stroke="#1e1e1e" stroke-width="1" />
<text x="274.00" y="871.66" font-size="12" text-anchor="start" fill="#1e1e1e" >Q-VD-OPH</text>
<rect x="264.00" y="877.50" width="7.00" height="6.40" fill="#ccc" stroke="#1e1e1e" stroke-width="1" />
<text x="274.00" y="884.96" font-size="12" text-anchor="start" fill="#1e1e1e" >Z-VAD-fmk</text>
<rect x="264.00" y="890.80" width="7.00" height="6.40" fill="url(#vs)" stroke="#1e1e1e" stroke-width="1" />
<text x="274.00" y="898.26" font-size="12" text-anchor="start" fill="#1e1e1e" >E64d</text>
<line x1="383.80" y1="832.60" x2="732.60" y2="832.60" stroke="#1e1e1e" stroke-width="1.1" />
<line x1="383.80" y1="832.60" x2="383.80" y2="959.50" stroke="#1e1e1e" stroke-width="1.1" />
<line x1="732.60" y1="832.60" x2="732.60" y2="959.50" stroke="#1e1e1e" stroke-width="1.1" />
<line x1="383.80" y1="959.50" x2="732.60" y2="959.50" stroke="#1e1e1e" stroke-width="1.1" />
<line x1="381.30" y1="959.50" x2="383.80" y2="959.50" stroke="#1e1e1e" stroke-width="1" />
<text x="376.30" y="964.56" font-size="12" text-anchor="end" fill="#1e1e1e" >0</text>
<line x1="381.30" y1="930.80" x2="383.80" y2="930.80" stroke="#1e1e1e" stroke-width="1" />
<text x="376.30" y="935.86" font-size="12" text-anchor="end" fill="#1e1e1e" >25</text>
<line x1="381.30" y1="902.10" x2="383.80" y2="902.10" stroke="#1e1e1e" stroke-width="1" />
<text x="376.30" y="907.16" font-size="12" text-anchor="end" fill="#1e1e1e" >50</text>
<line x1="381.30" y1="873.40" x2="383.80" y2="873.40" stroke="#1e1e1e" stroke-width="1" />
<text x="376.30" y="878.46" font-size="12" text-anchor="end" fill="#1e1e1e" >75</text>
<line x1="381.30" y1="844.70" x2="383.80" y2="844.70" stroke="#1e1e1e" stroke-width="1" />
<text x="376.30" y="849.76" font-size="12" text-anchor="end" fill="#1e1e1e" >100</text>
<line x1="471.30" y1="959.50" x2="471.30" y2="962.50" stroke="#1e1e1e" stroke-width="1" />
<line x1="557.80" y1="959.50" x2="557.80" y2="962.50" stroke="#1e1e1e" stroke-width="1" />
<line x1="645.20" y1="959.50" x2="645.20" y2="962.50" stroke="#1e1e1e" stroke-width="1" />
<text transform="translate(351.20,893.75) rotate(-90)" x="0" y="4.26" font-size="12" text-anchor="middle" font-weight="bold" fill="#1e1e1e" textLength="63.5" lengthAdjust="spacingAndGlyphs">Activity (%)</text>
<line x1="400.28" y1="957.20" x2="400.28" y2="956.63" stroke="#333" stroke-width="1.1" />
<line x1="395.88" y1="956.63" x2="404.68" y2="956.63" stroke="#333" stroke-width="1.3" />
<rect x="393.50" y="957.20" width="13.55" height="2.30" fill="url(#vs)" stroke="#1e1e1e" stroke-width="1" />
<line x1="413.83" y1="852.74" x2="413.83" y2="838.96" stroke="#333" stroke-width="1.1" />
<line x1="409.43" y1="838.96" x2="418.23" y2="838.96" stroke="#333" stroke-width="1.3" />
<rect x="407.05" y="852.74" width="13.55" height="106.76" fill="#fff" stroke="#1e1e1e" stroke-width="1" />
<line x1="427.38" y1="849.29" x2="427.38" y2="844.70" stroke="#333" stroke-width="1.1" />
<line x1="422.98" y1="844.70" x2="431.78" y2="844.70" stroke="#333" stroke-width="1.3" />
<rect x="420.60" y="849.29" width="13.55" height="110.21" fill="url(#hs)" stroke="#1e1e1e" stroke-width="1" />
<line x1="440.93" y1="948.02" x2="440.93" y2="946.87" stroke="#333" stroke-width="1.1" />
<line x1="436.53" y1="946.87" x2="445.33" y2="946.87" stroke="#333" stroke-width="1.3" />
<rect x="434.15" y="948.02" width="13.55" height="11.48" fill="#ccc" stroke="#1e1e1e" stroke-width="1" />
<line x1="454.48" y1="843.55" x2="454.48" y2="839.53" stroke="#333" stroke-width="1.1" />
<line x1="450.08" y1="839.53" x2="458.88" y2="839.53" stroke="#333" stroke-width="1.3" />
<rect x="447.70" y="843.55" width="13.55" height="115.95" fill="#1e1e1e" stroke="#1e1e1e" stroke-width="1" />
<line x1="488.08" y1="957.78" x2="488.08" y2="957.20" stroke="#333" stroke-width="1.1" />
<line x1="483.68" y1="957.20" x2="492.48" y2="957.20" stroke="#333" stroke-width="1.3" />
<rect x="481.30" y="957.78" width="13.55" height="1.72" fill="url(#vs)" stroke="#1e1e1e" stroke-width="1" />
<line x1="501.63" y1="950.32" x2="501.63" y2="949.17" stroke="#333" stroke-width="1.1" />
<line x1="497.23" y1="949.17" x2="506.03" y2="949.17" stroke="#333" stroke-width="1.3" />
<rect x="494.85" y="950.32" width="13.55" height="9.18" fill="#fff" stroke="#1e1e1e" stroke-width="1" />
<line x1="515.18" y1="847.57" x2="515.18" y2="846.42" stroke="#333" stroke-width="1.1" />
<line x1="510.78" y1="846.42" x2="519.58" y2="846.42" stroke="#333" stroke-width="1.3" />
<rect x="508.40" y="847.57" width="13.55" height="111.93" fill="url(#hs)" stroke="#1e1e1e" stroke-width="1" />
<line x1="528.73" y1="934.24" x2="528.73" y2="927.36" stroke="#333" stroke-width="1.1" />
<line x1="524.33" y1="927.36" x2="533.13" y2="927.36" stroke="#333" stroke-width="1.3" />
<rect x="521.95" y="934.24" width="13.55" height="25.26" fill="#ccc" stroke="#1e1e1e" stroke-width="1" />
<line x1="542.28" y1="897.51" x2="542.28" y2="884.88" stroke="#333" stroke-width="1.1" />
<line x1="537.88" y1="884.88" x2="546.68" y2="884.88" stroke="#333" stroke-width="1.3" />
<rect x="535.50" y="897.51" width="13.55" height="61.99" fill="#1e1e1e" stroke="#1e1e1e" stroke-width="1" />
<line x1="574.28" y1="954.91" x2="574.28" y2="954.33" stroke="#333" stroke-width="1.1" />
<line x1="569.88" y1="954.33" x2="578.68" y2="954.33" stroke="#333" stroke-width="1.3" />
<rect x="567.50" y="954.91" width="13.55" height="4.59" fill="url(#vs)" stroke="#1e1e1e" stroke-width="1" />
<line x1="587.83" y1="949.17" x2="587.83" y2="947.45" stroke="#333" stroke-width="1.1" />
<line x1="583.43" y1="947.45" x2="592.23" y2="947.45" stroke="#333" stroke-width="1.3" />
<rect x="581.05" y="949.17" width="13.55" height="10.33" fill="#fff" stroke="#1e1e1e" stroke-width="1" />
<line x1="601.38" y1="841.26" x2="601.38" y2="830.92" stroke="#333" stroke-width="1.1" />
<line x1="596.98" y1="830.92" x2="605.78" y2="830.92" stroke="#333" stroke-width="1.3" />
<rect x="594.60" y="841.26" width="13.55" height="118.24" fill="url(#hs)" stroke="#1e1e1e" stroke-width="1" />
<line x1="614.93" y1="929.65" x2="614.93" y2="925.06" stroke="#333" stroke-width="1.1" />
<line x1="610.53" y1="925.06" x2="619.33" y2="925.06" stroke="#333" stroke-width="1.3" />
<rect x="608.15" y="929.65" width="13.55" height="29.85" fill="#ccc" stroke="#1e1e1e" stroke-width="1" />
<line x1="628.48" y1="843.55" x2="628.48" y2="842.40" stroke="#333" stroke-width="1.1" />
<line x1="624.08" y1="842.40" x2="632.88" y2="842.40" stroke="#333" stroke-width="1.3" />
<rect x="621.70" y="843.55" width="13.55" height="115.95" fill="#1e1e1e" stroke="#1e1e1e" stroke-width="1" />
<line x1="662.08" y1="954.91" x2="662.08" y2="951.46" stroke="#333" stroke-width="1.1" />
<line x1="657.68" y1="951.46" x2="666.48" y2="951.46" stroke="#333" stroke-width="1.3" />
<rect x="655.30" y="954.91" width="13.55" height="4.59" fill="url(#vs)" stroke="#1e1e1e" stroke-width="1" />
<line x1="675.63" y1="849.29" x2="675.63" y2="848.14" stroke="#333" stroke-width="1.1" />
<line x1="671.23" y1="848.14" x2="680.03" y2="848.14" stroke="#333" stroke-width="1.3" />
<rect x="668.85" y="849.29" width="13.55" height="110.21" fill="#fff" stroke="#1e1e1e" stroke-width="1" />
<line x1="689.18" y1="847.57" x2="689.18" y2="837.81" stroke="#333" stroke-width="1.1" />
<line x1="684.78" y1="837.81" x2="693.58" y2="837.81" stroke="#333" stroke-width="1.3" />
<rect x="682.40" y="847.57" width="13.55" height="111.93" fill="url(#hs)" stroke="#1e1e1e" stroke-width="1" />
<line x1="702.73" y1="848.14" x2="702.73" y2="842.98" stroke="#333" stroke-width="1.1" />
<line x1="698.33" y1="842.98" x2="707.13" y2="842.98" stroke="#333" stroke-width="1.3" />
<rect x="695.95" y="848.14" width="13.55" height="111.36" fill="#ccc" stroke="#1e1e1e" stroke-width="1" />
<line x1="716.28" y1="849.87" x2="716.28" y2="846.42" stroke="#333" stroke-width="1.1" />
<line x1="711.88" y1="846.42" x2="720.68" y2="846.42" stroke="#333" stroke-width="1.3" />
<rect x="709.50" y="849.87" width="13.55" height="109.63" fill="#1e1e1e" stroke="#1e1e1e" stroke-width="1" />
<text x="427.70" y="980.46" font-size="12" text-anchor="middle" font-weight="bold" fill="#1e1e1e" >Cath. B</text>
<text x="515.10" y="980.46" font-size="12" text-anchor="middle" font-weight="bold" fill="#1e1e1e" >Cath. H</text>
<text x="602.90" y="980.46" font-size="12" text-anchor="middle" font-weight="bold" fill="#1e1e1e" >Cath. L</text>
<text x="690.70" y="980.46" font-size="12" text-anchor="middle" font-weight="bold" fill="#1e1e1e" >Cath. D</text>
</svg></body></html>
